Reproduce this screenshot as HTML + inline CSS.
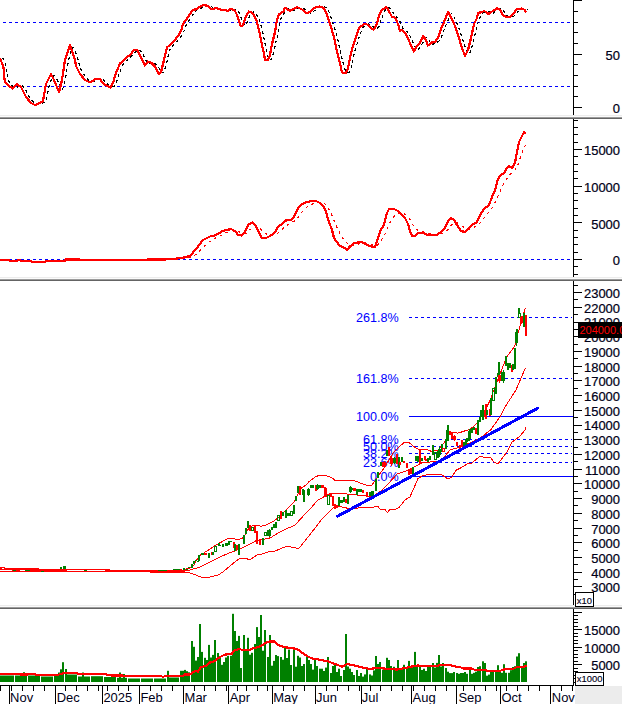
<!DOCTYPE html><html><head><meta charset="utf-8"><style>html,body{margin:0;padding:0;background:#fff;width:622px;height:704px;overflow:hidden}</style></head><body><svg width="622" height="704" viewBox="0 0 622 704" style="display:block">
<rect width="622" height="704" fill="#fff"/>
<rect x="0" y="115" width="622" height="1" fill="#ececec"/>
<rect x="0" y="116" width="622" height="1" fill="#fbfbfb"/>
<rect x="0" y="117" width="622" height="1" fill="#9c9c9c"/>
<rect x="0" y="118" width="622" height="1" fill="#646464"/>
<rect x="0" y="277" width="622" height="1" fill="#ececec"/>
<rect x="0" y="278" width="622" height="1" fill="#fbfbfb"/>
<rect x="0" y="279" width="622" height="1" fill="#9c9c9c"/>
<rect x="0" y="280" width="622" height="1" fill="#646464"/>
<rect x="0" y="605" width="622" height="1" fill="#ececec"/>
<rect x="0" y="606" width="622" height="1" fill="#fbfbfb"/>
<rect x="0" y="607" width="622" height="1" fill="#9c9c9c"/>
<rect x="0" y="608" width="622" height="1" fill="#646464"/>
<rect x="573" y="0" width="1" height="115" fill="#000"/>
<rect x="573" y="119" width="1" height="158" fill="#000"/>
<rect x="573" y="281" width="1" height="324" fill="#000"/>
<rect x="573" y="609" width="1" height="76" fill="#000"/>
<rect x="573" y="107" width="9" height="1" fill="#000"/>
<rect x="573" y="96" width="5" height="1" fill="#000"/>
<rect x="573" y="86" width="5" height="1" fill="#000"/>
<rect x="573" y="75" width="5" height="1" fill="#000"/>
<rect x="573" y="64" width="5" height="1" fill="#000"/>
<rect x="573" y="54" width="9" height="1" fill="#000"/>
<rect x="573" y="43" width="5" height="1" fill="#000"/>
<rect x="573" y="32" width="5" height="1" fill="#000"/>
<rect x="573" y="22" width="5" height="1" fill="#000"/>
<rect x="573" y="11" width="5" height="1" fill="#000"/>
<rect x="573" y="0" width="9" height="1" fill="#000"/>
<text transform="translate(620,60.2) scale(1.08,1)" font-family="Liberation Sans, sans-serif" font-size="12" fill="#000018" stroke="#000018" stroke-width="0.2" text-anchor="end">50</text>
<text transform="translate(620,113.3) scale(1.08,1)" font-family="Liberation Sans, sans-serif" font-size="12" fill="#000018" stroke="#000018" stroke-width="0.2" text-anchor="end">0</text>
<rect x="573" y="274" width="5" height="1" fill="#000"/>
<rect x="573" y="266" width="5" height="1" fill="#000"/>
<rect x="573" y="259" width="9" height="1" fill="#000"/>
<rect x="573" y="252" width="5" height="1" fill="#000"/>
<rect x="573" y="244" width="5" height="1" fill="#000"/>
<rect x="573" y="237" width="5" height="1" fill="#000"/>
<rect x="573" y="230" width="5" height="1" fill="#000"/>
<rect x="573" y="222" width="9" height="1" fill="#000"/>
<rect x="573" y="215" width="5" height="1" fill="#000"/>
<rect x="573" y="208" width="5" height="1" fill="#000"/>
<rect x="573" y="200" width="5" height="1" fill="#000"/>
<rect x="573" y="193" width="5" height="1" fill="#000"/>
<rect x="573" y="186" width="9" height="1" fill="#000"/>
<rect x="573" y="178" width="5" height="1" fill="#000"/>
<rect x="573" y="171" width="5" height="1" fill="#000"/>
<rect x="573" y="164" width="5" height="1" fill="#000"/>
<rect x="573" y="156" width="5" height="1" fill="#000"/>
<rect x="573" y="149" width="9" height="1" fill="#000"/>
<rect x="573" y="142" width="5" height="1" fill="#000"/>
<rect x="573" y="134" width="5" height="1" fill="#000"/>
<rect x="573" y="127" width="5" height="1" fill="#000"/>
<rect x="573" y="120" width="5" height="1" fill="#000"/>
<text transform="translate(620,155.2) scale(1.08,1)" font-family="Liberation Sans, sans-serif" font-size="12" fill="#000018" stroke="#000018" stroke-width="0.2" text-anchor="end">15000</text>
<text transform="translate(620,191.8) scale(1.08,1)" font-family="Liberation Sans, sans-serif" font-size="12" fill="#000018" stroke="#000018" stroke-width="0.2" text-anchor="end">10000</text>
<text transform="translate(620,228.5) scale(1.08,1)" font-family="Liberation Sans, sans-serif" font-size="12" fill="#000018" stroke="#000018" stroke-width="0.2" text-anchor="end">5000</text>
<text transform="translate(620,265.1) scale(1.08,1)" font-family="Liberation Sans, sans-serif" font-size="12" fill="#000018" stroke="#000018" stroke-width="0.2" text-anchor="end">0</text>
<rect x="573" y="594" width="5" height="1" fill="#000"/>
<rect x="573" y="586" width="9" height="1" fill="#000"/>
<rect x="573" y="579" width="5" height="1" fill="#000"/>
<rect x="573" y="572" width="9" height="1" fill="#000"/>
<rect x="573" y="564" width="5" height="1" fill="#000"/>
<rect x="573" y="557" width="9" height="1" fill="#000"/>
<rect x="573" y="550" width="5" height="1" fill="#000"/>
<rect x="573" y="542" width="9" height="1" fill="#000"/>
<rect x="573" y="535" width="5" height="1" fill="#000"/>
<rect x="573" y="528" width="9" height="1" fill="#000"/>
<rect x="573" y="520" width="5" height="1" fill="#000"/>
<rect x="573" y="513" width="9" height="1" fill="#000"/>
<rect x="573" y="505" width="5" height="1" fill="#000"/>
<rect x="573" y="498" width="9" height="1" fill="#000"/>
<rect x="573" y="491" width="5" height="1" fill="#000"/>
<rect x="573" y="483" width="9" height="1" fill="#000"/>
<rect x="573" y="476" width="5" height="1" fill="#000"/>
<rect x="573" y="469" width="9" height="1" fill="#000"/>
<rect x="573" y="461" width="5" height="1" fill="#000"/>
<rect x="573" y="454" width="9" height="1" fill="#000"/>
<rect x="573" y="447" width="5" height="1" fill="#000"/>
<rect x="573" y="439" width="9" height="1" fill="#000"/>
<rect x="573" y="432" width="5" height="1" fill="#000"/>
<rect x="573" y="425" width="9" height="1" fill="#000"/>
<rect x="573" y="417" width="5" height="1" fill="#000"/>
<rect x="573" y="410" width="9" height="1" fill="#000"/>
<rect x="573" y="402" width="5" height="1" fill="#000"/>
<rect x="573" y="395" width="9" height="1" fill="#000"/>
<rect x="573" y="388" width="5" height="1" fill="#000"/>
<rect x="573" y="380" width="9" height="1" fill="#000"/>
<rect x="573" y="373" width="5" height="1" fill="#000"/>
<rect x="573" y="366" width="9" height="1" fill="#000"/>
<rect x="573" y="358" width="5" height="1" fill="#000"/>
<rect x="573" y="351" width="9" height="1" fill="#000"/>
<rect x="573" y="344" width="5" height="1" fill="#000"/>
<rect x="573" y="336" width="9" height="1" fill="#000"/>
<rect x="573" y="329" width="5" height="1" fill="#000"/>
<rect x="573" y="322" width="9" height="1" fill="#000"/>
<rect x="573" y="314" width="5" height="1" fill="#000"/>
<rect x="573" y="307" width="9" height="1" fill="#000"/>
<rect x="573" y="299" width="5" height="1" fill="#000"/>
<rect x="573" y="292" width="9" height="1" fill="#000"/>
<rect x="573" y="285" width="5" height="1" fill="#000"/>
<text transform="translate(620,592.3) scale(1.08,1)" font-family="Liberation Sans, sans-serif" font-size="12" fill="#000018" stroke="#000018" stroke-width="0.2" text-anchor="end">3000</text>
<text transform="translate(620,577.6) scale(1.08,1)" font-family="Liberation Sans, sans-serif" font-size="12" fill="#000018" stroke="#000018" stroke-width="0.2" text-anchor="end">4000</text>
<text transform="translate(620,562.9) scale(1.08,1)" font-family="Liberation Sans, sans-serif" font-size="12" fill="#000018" stroke="#000018" stroke-width="0.2" text-anchor="end">5000</text>
<text transform="translate(620,548.2) scale(1.08,1)" font-family="Liberation Sans, sans-serif" font-size="12" fill="#000018" stroke="#000018" stroke-width="0.2" text-anchor="end">6000</text>
<text transform="translate(620,533.5) scale(1.08,1)" font-family="Liberation Sans, sans-serif" font-size="12" fill="#000018" stroke="#000018" stroke-width="0.2" text-anchor="end">7000</text>
<text transform="translate(620,518.7) scale(1.08,1)" font-family="Liberation Sans, sans-serif" font-size="12" fill="#000018" stroke="#000018" stroke-width="0.2" text-anchor="end">8000</text>
<text transform="translate(620,504.0) scale(1.08,1)" font-family="Liberation Sans, sans-serif" font-size="12" fill="#000018" stroke="#000018" stroke-width="0.2" text-anchor="end">9000</text>
<text transform="translate(620,489.3) scale(1.08,1)" font-family="Liberation Sans, sans-serif" font-size="12" fill="#000018" stroke="#000018" stroke-width="0.2" text-anchor="end">10000</text>
<text transform="translate(620,474.6) scale(1.08,1)" font-family="Liberation Sans, sans-serif" font-size="12" fill="#000018" stroke="#000018" stroke-width="0.2" text-anchor="end">11000</text>
<text transform="translate(620,459.9) scale(1.08,1)" font-family="Liberation Sans, sans-serif" font-size="12" fill="#000018" stroke="#000018" stroke-width="0.2" text-anchor="end">12000</text>
<text transform="translate(620,445.2) scale(1.08,1)" font-family="Liberation Sans, sans-serif" font-size="12" fill="#000018" stroke="#000018" stroke-width="0.2" text-anchor="end">13000</text>
<text transform="translate(620,430.4) scale(1.08,1)" font-family="Liberation Sans, sans-serif" font-size="12" fill="#000018" stroke="#000018" stroke-width="0.2" text-anchor="end">14000</text>
<text transform="translate(620,415.7) scale(1.08,1)" font-family="Liberation Sans, sans-serif" font-size="12" fill="#000018" stroke="#000018" stroke-width="0.2" text-anchor="end">15000</text>
<text transform="translate(620,401.0) scale(1.08,1)" font-family="Liberation Sans, sans-serif" font-size="12" fill="#000018" stroke="#000018" stroke-width="0.2" text-anchor="end">16000</text>
<text transform="translate(620,386.3) scale(1.08,1)" font-family="Liberation Sans, sans-serif" font-size="12" fill="#000018" stroke="#000018" stroke-width="0.2" text-anchor="end">17000</text>
<text transform="translate(620,371.6) scale(1.08,1)" font-family="Liberation Sans, sans-serif" font-size="12" fill="#000018" stroke="#000018" stroke-width="0.2" text-anchor="end">18000</text>
<text transform="translate(620,356.9) scale(1.08,1)" font-family="Liberation Sans, sans-serif" font-size="12" fill="#000018" stroke="#000018" stroke-width="0.2" text-anchor="end">19000</text>
<text transform="translate(620,342.1) scale(1.08,1)" font-family="Liberation Sans, sans-serif" font-size="12" fill="#000018" stroke="#000018" stroke-width="0.2" text-anchor="end">20000</text>
<text transform="translate(620,327.4) scale(1.08,1)" font-family="Liberation Sans, sans-serif" font-size="12" fill="#000018" stroke="#000018" stroke-width="0.2" text-anchor="end">21000</text>
<text transform="translate(620,312.7) scale(1.08,1)" font-family="Liberation Sans, sans-serif" font-size="12" fill="#000018" stroke="#000018" stroke-width="0.2" text-anchor="end">22000</text>
<text transform="translate(620,298.0) scale(1.08,1)" font-family="Liberation Sans, sans-serif" font-size="12" fill="#000018" stroke="#000018" stroke-width="0.2" text-anchor="end">23000</text>
<rect x="573" y="682" width="9" height="1" fill="#000"/>
<rect x="573" y="678" width="5" height="1" fill="#000"/>
<rect x="573" y="675" width="5" height="1" fill="#000"/>
<rect x="573" y="671" width="5" height="1" fill="#000"/>
<rect x="573" y="668" width="5" height="1" fill="#000"/>
<rect x="573" y="664" width="9" height="1" fill="#000"/>
<rect x="573" y="661" width="5" height="1" fill="#000"/>
<rect x="573" y="657" width="5" height="1" fill="#000"/>
<rect x="573" y="654" width="5" height="1" fill="#000"/>
<rect x="573" y="650" width="5" height="1" fill="#000"/>
<rect x="573" y="647" width="9" height="1" fill="#000"/>
<rect x="573" y="643" width="5" height="1" fill="#000"/>
<rect x="573" y="640" width="5" height="1" fill="#000"/>
<rect x="573" y="636" width="5" height="1" fill="#000"/>
<rect x="573" y="633" width="5" height="1" fill="#000"/>
<rect x="573" y="629" width="9" height="1" fill="#000"/>
<rect x="573" y="626" width="5" height="1" fill="#000"/>
<rect x="573" y="622" width="5" height="1" fill="#000"/>
<rect x="573" y="619" width="5" height="1" fill="#000"/>
<rect x="573" y="615" width="5" height="1" fill="#000"/>
<rect x="573" y="612" width="9" height="1" fill="#000"/>
<text transform="translate(620,635.1) scale(1.08,1)" font-family="Liberation Sans, sans-serif" font-size="12" fill="#000018" stroke="#000018" stroke-width="0.2" text-anchor="end">15000</text>
<text transform="translate(620,652.5) scale(1.08,1)" font-family="Liberation Sans, sans-serif" font-size="12" fill="#000018" stroke="#000018" stroke-width="0.2" text-anchor="end">10000</text>
<text transform="translate(620,670.0) scale(1.08,1)" font-family="Liberation Sans, sans-serif" font-size="12" fill="#000018" stroke="#000018" stroke-width="0.2" text-anchor="end">5000</text>
<rect x="3" y="22" width="3" height="1" fill="#0000ff"/>
<rect x="9" y="22" width="3" height="1" fill="#0000ff"/>
<rect x="15" y="22" width="3" height="1" fill="#0000ff"/>
<rect x="21" y="22" width="3" height="1" fill="#0000ff"/>
<rect x="27" y="22" width="3" height="1" fill="#0000ff"/>
<rect x="33" y="22" width="3" height="1" fill="#0000ff"/>
<rect x="39" y="22" width="3" height="1" fill="#0000ff"/>
<rect x="45" y="22" width="3" height="1" fill="#0000ff"/>
<rect x="51" y="22" width="3" height="1" fill="#0000ff"/>
<rect x="57" y="22" width="3" height="1" fill="#0000ff"/>
<rect x="63" y="22" width="3" height="1" fill="#0000ff"/>
<rect x="69" y="22" width="3" height="1" fill="#0000ff"/>
<rect x="75" y="22" width="3" height="1" fill="#0000ff"/>
<rect x="81" y="22" width="3" height="1" fill="#0000ff"/>
<rect x="87" y="22" width="3" height="1" fill="#0000ff"/>
<rect x="93" y="22" width="3" height="1" fill="#0000ff"/>
<rect x="99" y="22" width="3" height="1" fill="#0000ff"/>
<rect x="105" y="22" width="3" height="1" fill="#0000ff"/>
<rect x="111" y="22" width="3" height="1" fill="#0000ff"/>
<rect x="117" y="22" width="3" height="1" fill="#0000ff"/>
<rect x="123" y="22" width="3" height="1" fill="#0000ff"/>
<rect x="129" y="22" width="3" height="1" fill="#0000ff"/>
<rect x="135" y="22" width="3" height="1" fill="#0000ff"/>
<rect x="141" y="22" width="3" height="1" fill="#0000ff"/>
<rect x="147" y="22" width="3" height="1" fill="#0000ff"/>
<rect x="153" y="22" width="3" height="1" fill="#0000ff"/>
<rect x="159" y="22" width="3" height="1" fill="#0000ff"/>
<rect x="165" y="22" width="3" height="1" fill="#0000ff"/>
<rect x="171" y="22" width="3" height="1" fill="#0000ff"/>
<rect x="177" y="22" width="3" height="1" fill="#0000ff"/>
<rect x="183" y="22" width="3" height="1" fill="#0000ff"/>
<rect x="189" y="22" width="3" height="1" fill="#0000ff"/>
<rect x="195" y="22" width="3" height="1" fill="#0000ff"/>
<rect x="201" y="22" width="3" height="1" fill="#0000ff"/>
<rect x="207" y="22" width="3" height="1" fill="#0000ff"/>
<rect x="213" y="22" width="3" height="1" fill="#0000ff"/>
<rect x="219" y="22" width="3" height="1" fill="#0000ff"/>
<rect x="225" y="22" width="3" height="1" fill="#0000ff"/>
<rect x="231" y="22" width="3" height="1" fill="#0000ff"/>
<rect x="237" y="22" width="3" height="1" fill="#0000ff"/>
<rect x="243" y="22" width="3" height="1" fill="#0000ff"/>
<rect x="249" y="22" width="3" height="1" fill="#0000ff"/>
<rect x="255" y="22" width="3" height="1" fill="#0000ff"/>
<rect x="261" y="22" width="3" height="1" fill="#0000ff"/>
<rect x="267" y="22" width="3" height="1" fill="#0000ff"/>
<rect x="273" y="22" width="3" height="1" fill="#0000ff"/>
<rect x="279" y="22" width="3" height="1" fill="#0000ff"/>
<rect x="285" y="22" width="3" height="1" fill="#0000ff"/>
<rect x="291" y="22" width="3" height="1" fill="#0000ff"/>
<rect x="297" y="22" width="3" height="1" fill="#0000ff"/>
<rect x="303" y="22" width="3" height="1" fill="#0000ff"/>
<rect x="309" y="22" width="3" height="1" fill="#0000ff"/>
<rect x="315" y="22" width="3" height="1" fill="#0000ff"/>
<rect x="321" y="22" width="3" height="1" fill="#0000ff"/>
<rect x="327" y="22" width="3" height="1" fill="#0000ff"/>
<rect x="333" y="22" width="3" height="1" fill="#0000ff"/>
<rect x="339" y="22" width="3" height="1" fill="#0000ff"/>
<rect x="345" y="22" width="3" height="1" fill="#0000ff"/>
<rect x="351" y="22" width="3" height="1" fill="#0000ff"/>
<rect x="357" y="22" width="3" height="1" fill="#0000ff"/>
<rect x="363" y="22" width="3" height="1" fill="#0000ff"/>
<rect x="369" y="22" width="3" height="1" fill="#0000ff"/>
<rect x="375" y="22" width="3" height="1" fill="#0000ff"/>
<rect x="381" y="22" width="3" height="1" fill="#0000ff"/>
<rect x="387" y="22" width="3" height="1" fill="#0000ff"/>
<rect x="393" y="22" width="3" height="1" fill="#0000ff"/>
<rect x="399" y="22" width="3" height="1" fill="#0000ff"/>
<rect x="405" y="22" width="3" height="1" fill="#0000ff"/>
<rect x="411" y="22" width="3" height="1" fill="#0000ff"/>
<rect x="417" y="22" width="3" height="1" fill="#0000ff"/>
<rect x="423" y="22" width="3" height="1" fill="#0000ff"/>
<rect x="429" y="22" width="3" height="1" fill="#0000ff"/>
<rect x="435" y="22" width="3" height="1" fill="#0000ff"/>
<rect x="441" y="22" width="3" height="1" fill="#0000ff"/>
<rect x="447" y="22" width="3" height="1" fill="#0000ff"/>
<rect x="453" y="22" width="3" height="1" fill="#0000ff"/>
<rect x="459" y="22" width="3" height="1" fill="#0000ff"/>
<rect x="465" y="22" width="3" height="1" fill="#0000ff"/>
<rect x="471" y="22" width="3" height="1" fill="#0000ff"/>
<rect x="477" y="22" width="3" height="1" fill="#0000ff"/>
<rect x="483" y="22" width="3" height="1" fill="#0000ff"/>
<rect x="489" y="22" width="3" height="1" fill="#0000ff"/>
<rect x="495" y="22" width="3" height="1" fill="#0000ff"/>
<rect x="501" y="22" width="3" height="1" fill="#0000ff"/>
<rect x="507" y="22" width="3" height="1" fill="#0000ff"/>
<rect x="513" y="22" width="3" height="1" fill="#0000ff"/>
<rect x="519" y="22" width="3" height="1" fill="#0000ff"/>
<rect x="525" y="22" width="3" height="1" fill="#0000ff"/>
<rect x="531" y="22" width="3" height="1" fill="#0000ff"/>
<rect x="537" y="22" width="3" height="1" fill="#0000ff"/>
<rect x="543" y="22" width="3" height="1" fill="#0000ff"/>
<rect x="549" y="22" width="3" height="1" fill="#0000ff"/>
<rect x="555" y="22" width="3" height="1" fill="#0000ff"/>
<rect x="561" y="22" width="3" height="1" fill="#0000ff"/>
<rect x="567" y="22" width="3" height="1" fill="#0000ff"/>
<rect x="3" y="86" width="3" height="1" fill="#0000ff"/>
<rect x="9" y="86" width="3" height="1" fill="#0000ff"/>
<rect x="15" y="86" width="3" height="1" fill="#0000ff"/>
<rect x="21" y="86" width="3" height="1" fill="#0000ff"/>
<rect x="27" y="86" width="3" height="1" fill="#0000ff"/>
<rect x="33" y="86" width="3" height="1" fill="#0000ff"/>
<rect x="39" y="86" width="3" height="1" fill="#0000ff"/>
<rect x="45" y="86" width="3" height="1" fill="#0000ff"/>
<rect x="51" y="86" width="3" height="1" fill="#0000ff"/>
<rect x="57" y="86" width="3" height="1" fill="#0000ff"/>
<rect x="63" y="86" width="3" height="1" fill="#0000ff"/>
<rect x="69" y="86" width="3" height="1" fill="#0000ff"/>
<rect x="75" y="86" width="3" height="1" fill="#0000ff"/>
<rect x="81" y="86" width="3" height="1" fill="#0000ff"/>
<rect x="87" y="86" width="3" height="1" fill="#0000ff"/>
<rect x="93" y="86" width="3" height="1" fill="#0000ff"/>
<rect x="99" y="86" width="3" height="1" fill="#0000ff"/>
<rect x="105" y="86" width="3" height="1" fill="#0000ff"/>
<rect x="111" y="86" width="3" height="1" fill="#0000ff"/>
<rect x="117" y="86" width="3" height="1" fill="#0000ff"/>
<rect x="123" y="86" width="3" height="1" fill="#0000ff"/>
<rect x="129" y="86" width="3" height="1" fill="#0000ff"/>
<rect x="135" y="86" width="3" height="1" fill="#0000ff"/>
<rect x="141" y="86" width="3" height="1" fill="#0000ff"/>
<rect x="147" y="86" width="3" height="1" fill="#0000ff"/>
<rect x="153" y="86" width="3" height="1" fill="#0000ff"/>
<rect x="159" y="86" width="3" height="1" fill="#0000ff"/>
<rect x="165" y="86" width="3" height="1" fill="#0000ff"/>
<rect x="171" y="86" width="3" height="1" fill="#0000ff"/>
<rect x="177" y="86" width="3" height="1" fill="#0000ff"/>
<rect x="183" y="86" width="3" height="1" fill="#0000ff"/>
<rect x="189" y="86" width="3" height="1" fill="#0000ff"/>
<rect x="195" y="86" width="3" height="1" fill="#0000ff"/>
<rect x="201" y="86" width="3" height="1" fill="#0000ff"/>
<rect x="207" y="86" width="3" height="1" fill="#0000ff"/>
<rect x="213" y="86" width="3" height="1" fill="#0000ff"/>
<rect x="219" y="86" width="3" height="1" fill="#0000ff"/>
<rect x="225" y="86" width="3" height="1" fill="#0000ff"/>
<rect x="231" y="86" width="3" height="1" fill="#0000ff"/>
<rect x="237" y="86" width="3" height="1" fill="#0000ff"/>
<rect x="243" y="86" width="3" height="1" fill="#0000ff"/>
<rect x="249" y="86" width="3" height="1" fill="#0000ff"/>
<rect x="255" y="86" width="3" height="1" fill="#0000ff"/>
<rect x="261" y="86" width="3" height="1" fill="#0000ff"/>
<rect x="267" y="86" width="3" height="1" fill="#0000ff"/>
<rect x="273" y="86" width="3" height="1" fill="#0000ff"/>
<rect x="279" y="86" width="3" height="1" fill="#0000ff"/>
<rect x="285" y="86" width="3" height="1" fill="#0000ff"/>
<rect x="291" y="86" width="3" height="1" fill="#0000ff"/>
<rect x="297" y="86" width="3" height="1" fill="#0000ff"/>
<rect x="303" y="86" width="3" height="1" fill="#0000ff"/>
<rect x="309" y="86" width="3" height="1" fill="#0000ff"/>
<rect x="315" y="86" width="3" height="1" fill="#0000ff"/>
<rect x="321" y="86" width="3" height="1" fill="#0000ff"/>
<rect x="327" y="86" width="3" height="1" fill="#0000ff"/>
<rect x="333" y="86" width="3" height="1" fill="#0000ff"/>
<rect x="339" y="86" width="3" height="1" fill="#0000ff"/>
<rect x="345" y="86" width="3" height="1" fill="#0000ff"/>
<rect x="351" y="86" width="3" height="1" fill="#0000ff"/>
<rect x="357" y="86" width="3" height="1" fill="#0000ff"/>
<rect x="363" y="86" width="3" height="1" fill="#0000ff"/>
<rect x="369" y="86" width="3" height="1" fill="#0000ff"/>
<rect x="375" y="86" width="3" height="1" fill="#0000ff"/>
<rect x="381" y="86" width="3" height="1" fill="#0000ff"/>
<rect x="387" y="86" width="3" height="1" fill="#0000ff"/>
<rect x="393" y="86" width="3" height="1" fill="#0000ff"/>
<rect x="399" y="86" width="3" height="1" fill="#0000ff"/>
<rect x="405" y="86" width="3" height="1" fill="#0000ff"/>
<rect x="411" y="86" width="3" height="1" fill="#0000ff"/>
<rect x="417" y="86" width="3" height="1" fill="#0000ff"/>
<rect x="423" y="86" width="3" height="1" fill="#0000ff"/>
<rect x="429" y="86" width="3" height="1" fill="#0000ff"/>
<rect x="435" y="86" width="3" height="1" fill="#0000ff"/>
<rect x="441" y="86" width="3" height="1" fill="#0000ff"/>
<rect x="447" y="86" width="3" height="1" fill="#0000ff"/>
<rect x="453" y="86" width="3" height="1" fill="#0000ff"/>
<rect x="459" y="86" width="3" height="1" fill="#0000ff"/>
<rect x="465" y="86" width="3" height="1" fill="#0000ff"/>
<rect x="471" y="86" width="3" height="1" fill="#0000ff"/>
<rect x="477" y="86" width="3" height="1" fill="#0000ff"/>
<rect x="483" y="86" width="3" height="1" fill="#0000ff"/>
<rect x="489" y="86" width="3" height="1" fill="#0000ff"/>
<rect x="495" y="86" width="3" height="1" fill="#0000ff"/>
<rect x="501" y="86" width="3" height="1" fill="#0000ff"/>
<rect x="507" y="86" width="3" height="1" fill="#0000ff"/>
<rect x="513" y="86" width="3" height="1" fill="#0000ff"/>
<rect x="519" y="86" width="3" height="1" fill="#0000ff"/>
<rect x="525" y="86" width="3" height="1" fill="#0000ff"/>
<rect x="531" y="86" width="3" height="1" fill="#0000ff"/>
<rect x="537" y="86" width="3" height="1" fill="#0000ff"/>
<rect x="543" y="86" width="3" height="1" fill="#0000ff"/>
<rect x="549" y="86" width="3" height="1" fill="#0000ff"/>
<rect x="555" y="86" width="3" height="1" fill="#0000ff"/>
<rect x="561" y="86" width="3" height="1" fill="#0000ff"/>
<rect x="567" y="86" width="3" height="1" fill="#0000ff"/>
<polyline points="1.8,57.9 2.3,58.1 2.8,58.5 3.3,59.0 3.8,59.8 4.3,60.8 4.8,61.9 5.3,63.4 5.8,65.4 6.3,68.0 6.8,70.9 7.3,73.7 7.8,76.3 8.3,78.8 8.8,81.1 9.3,82.6 9.8,83.5 10.3,83.9 10.8,84.4 11.3,84.8 11.8,85.3 12.3,85.7 12.8,86.1 13.3,86.6 13.8,87.0 14.3,87.4 14.8,87.7 15.3,87.8 15.8,87.8 16.3,87.7 16.8,87.4 17.3,87.0 17.8,86.6 18.3,86.1 18.8,85.7 19.3,85.3 19.8,85.1 20.3,85.0 20.8,85.0 21.3,85.1 21.8,85.3 22.3,85.6 22.8,86.0 23.3,86.4 23.8,86.9 24.3,87.6 24.8,88.3 25.3,89.1 25.8,90.0 26.3,91.0 26.8,92.0 27.3,93.0 27.8,94.0 28.3,94.9 28.8,95.8 29.3,96.7 29.8,97.4 30.3,98.1 30.8,98.8 31.3,99.4 31.8,100.0 32.3,100.6 32.8,101.2 33.3,101.8 33.8,102.2 34.3,102.7 34.8,103.1 35.3,103.5 35.8,103.8 36.3,104.0 36.8,104.2 37.3,104.4 37.8,104.6 38.3,104.6 38.8,104.6 39.3,104.5 39.8,104.4 40.3,104.2 40.8,104.0 41.3,103.8 41.8,103.6 42.3,103.4 42.8,103.1 43.3,102.9 43.8,102.6 44.3,102.3 44.8,102.0 45.3,101.3 45.8,100.3 46.3,98.9 46.8,97.1 47.3,95.0 47.8,92.5 48.3,89.9 48.8,87.6 49.3,85.6 49.8,83.8 50.3,82.3 50.8,81.0 51.3,80.0 51.8,79.0 52.3,78.0 52.8,77.0 53.3,76.3 53.8,75.9 54.3,75.7 54.8,75.9 55.3,76.3 55.8,77.0 56.3,78.0 56.8,79.1 57.3,80.2 57.8,81.3 58.3,82.4 58.8,83.6 59.3,84.8 59.8,86.0 60.3,87.2 60.8,88.4 61.3,89.1 61.8,89.4 62.3,89.3 62.8,88.6 63.3,87.5 63.8,86.0 64.3,83.8 64.8,81.4 65.3,78.9 65.8,76.1 66.3,73.1 66.8,70.0 67.3,66.9 67.8,64.1 68.3,61.6 68.8,59.3 69.3,57.3 69.8,55.5 70.3,54.0 70.8,52.5 71.3,51.0 71.8,49.5 72.3,48.4 72.8,47.8 73.3,47.6 73.8,47.8 74.3,48.4 74.8,49.5 75.3,51.0 75.8,52.5 76.3,54.0 76.8,55.5 77.3,57.2 77.8,59.1 78.3,61.0 78.8,62.8 79.3,64.5 79.8,66.1 80.3,67.7 80.8,69.0 81.3,70.0 81.8,71.0 82.3,71.9 82.8,72.8 83.3,73.7 83.8,74.4 84.3,75.1 84.8,75.8 85.3,76.4 85.8,77.0 86.3,77.6 86.8,78.2 87.3,78.8 87.8,79.2 88.3,79.7 88.8,80.1 89.3,80.5 89.8,80.8 90.3,81.0 90.8,81.2 91.3,81.5 91.8,81.6 92.3,81.7 92.8,81.8 93.3,81.8 93.8,81.8 94.3,81.6 94.8,81.4 95.3,81.2 95.8,80.9 96.3,80.5 96.8,80.1 97.3,79.7 97.8,79.4 98.3,79.1 98.8,78.9 99.3,78.8 99.8,78.8 100.3,78.8 100.8,78.9 101.3,78.9 101.8,78.9 102.3,79.0 102.8,79.3 103.3,79.6 103.8,80.0 104.3,80.5 104.8,81.1 105.3,81.8 105.8,82.4 106.3,83.1 106.8,83.6 107.3,84.1 107.8,84.5 108.3,84.9 108.8,85.2 109.3,85.4 109.8,85.7 110.3,85.9 110.8,86.1 111.3,86.3 111.8,86.6 112.3,86.8 112.8,86.9 113.3,86.8 113.8,86.5 114.3,86.1 114.8,85.5 115.3,84.7 115.8,83.6 116.3,82.3 116.8,81.0 117.3,79.6 117.8,78.0 118.3,76.4 118.8,74.9 119.3,73.4 119.8,72.0 120.3,70.7 120.8,69.4 121.3,68.2 121.8,67.1 122.3,66.0 122.8,65.0 123.3,64.1 123.8,63.4 124.3,62.7 124.8,62.2 125.3,61.8 125.8,61.3 126.3,60.9 126.8,60.4 127.3,59.9 127.8,59.5 128.3,59.0 128.8,58.5 129.3,58.0 129.8,57.6 130.3,57.1 130.8,56.7 131.3,56.4 131.8,56.0 132.3,55.6 132.8,55.2 133.3,54.8 133.8,54.2 134.3,53.7 134.8,53.1 135.3,52.5 135.8,51.9 136.3,51.3 136.8,50.9 137.3,50.5 137.8,50.2 138.3,50.0 138.8,49.9 139.3,49.9 139.8,50.2 140.3,50.5 140.8,51.0 141.3,51.7 141.8,52.4 142.3,53.4 142.8,54.3 143.3,55.2 143.8,56.2 144.3,57.1 144.8,58.1 145.3,59.1 145.8,60.2 146.3,61.2 146.8,62.3 147.3,63.1 147.8,63.7 148.3,64.0 148.8,64.1 149.3,63.9 149.8,63.5 150.3,63.0 150.8,62.5 151.3,62.2 151.8,62.0 152.3,62.0 152.8,62.0 153.3,62.2 153.8,62.5 154.3,62.8 154.8,63.1 155.3,63.5 155.8,64.0 156.3,64.5 156.8,65.0 157.3,65.6 157.8,66.2 158.3,66.9 158.8,67.6 159.3,68.4 159.8,69.3 160.3,70.2 160.8,71.2 161.3,71.9 161.8,72.4 162.3,72.8 162.8,72.9 163.3,72.6 163.8,71.9 164.3,70.7 164.8,69.4 165.3,67.8 165.8,66.0 166.3,64.0 166.8,61.9 167.3,59.9 167.8,57.8 168.3,55.6 168.8,53.5 169.3,51.6 169.8,50.0 170.3,48.6 170.8,47.6 171.3,46.8 171.8,46.2 172.3,46.0 172.8,45.6 173.3,45.2 173.8,44.8 174.3,44.3 174.8,43.8 175.3,43.2 175.8,42.7 176.3,42.1 176.8,41.5 177.3,40.9 177.8,40.3 178.3,39.7 178.8,39.1 179.3,38.5 179.8,37.9 180.3,37.2 180.8,36.5 181.3,35.8 181.8,35.1 182.3,34.3 182.8,33.5 183.3,32.5 183.8,31.4 184.3,30.2 184.8,28.9 185.3,27.5 185.8,26.2 186.3,24.9 186.8,23.8 187.3,22.8 187.8,22.0 188.3,21.3 188.8,20.6 189.3,19.9 189.8,19.2 190.3,18.5 190.8,17.8 191.3,17.0 191.8,16.2 192.3,15.5 192.8,14.8 193.3,14.1 193.8,13.4 194.3,12.7 194.8,12.0 195.3,11.4 195.8,10.9 196.3,10.5 196.8,10.1 197.3,9.8 197.8,9.6 198.3,9.5 198.8,9.4 199.3,9.2 199.8,9.0 200.3,8.8 200.8,8.5 201.3,8.2 201.8,7.9 202.3,7.5 202.8,7.1 203.3,6.8 203.8,6.5 204.3,6.2 204.8,5.9 205.3,5.7 205.8,5.5 206.3,5.4 206.8,5.3 207.3,5.2 207.8,5.2 208.3,5.3 208.8,5.4 209.3,5.5 209.8,5.6 210.3,5.8 210.8,6.1 211.3,6.4 211.8,6.8 212.3,7.2 212.8,7.8 213.3,8.2 213.8,8.6 214.3,8.9 214.8,9.0 215.3,9.1 215.8,9.1 216.3,8.9 216.8,8.8 217.3,8.6 217.8,8.4 218.3,8.3 218.8,8.3 219.3,8.3 219.8,8.3 220.3,8.4 220.8,8.6 221.3,8.8 221.8,8.9 222.3,9.1 222.8,9.3 223.3,9.4 223.8,9.5 224.3,9.6 224.8,9.7 225.3,9.7 225.8,9.8 226.3,9.8 226.8,9.8 227.3,9.9 227.8,10.0 228.3,10.1 228.8,10.2 229.3,10.3 229.8,10.5 230.3,10.6 230.8,10.6 231.3,10.5 231.8,10.3 232.3,10.1 232.8,9.8 233.3,9.4 233.8,9.2 234.3,9.1 234.8,9.1 235.3,9.2 235.8,9.4 236.3,9.8 236.8,10.1 237.3,10.5 237.8,11.0 238.3,11.6 238.8,12.3 239.3,13.2 239.8,14.2 240.3,15.4 240.8,16.7 241.3,18.1 241.8,19.5 242.3,21.0 242.8,22.4 243.3,23.6 243.8,24.4 244.3,25.1 244.8,25.4 245.3,25.4 245.8,24.9 246.3,24.0 246.8,23.0 247.3,21.8 247.8,20.5 248.3,19.1 248.8,17.8 249.3,16.6 249.8,15.6 250.3,14.6 250.8,13.8 251.3,13.1 251.8,12.6 252.3,12.3 252.8,12.1 253.3,12.0 253.8,12.0 254.3,12.3 254.8,12.6 255.3,13.1 255.8,13.6 256.3,14.2 256.8,14.9 257.3,15.8 257.8,16.6 258.3,17.5 258.8,18.6 259.3,19.9 259.8,21.3 260.3,22.8 260.8,24.5 261.3,26.4 261.8,28.5 262.3,30.6 262.8,32.8 263.3,35.1 263.8,37.5 264.3,40.0 264.8,42.4 265.3,44.8 265.8,47.1 266.3,49.6 266.8,52.1 267.3,54.2 267.8,56.0 268.3,57.5 268.8,58.7 269.3,59.6 269.8,60.0 270.3,59.8 270.8,59.5 271.3,58.9 271.8,58.2 272.3,57.1 272.8,55.6 273.3,53.7 273.8,51.6 274.3,49.4 274.8,47.1 275.3,44.6 275.8,42.3 276.3,40.1 276.8,38.0 277.3,35.8 277.8,33.5 278.3,31.1 278.8,28.4 279.3,25.9 279.8,23.5 280.3,21.2 280.8,19.1 281.3,17.4 281.8,16.2 282.3,15.3 282.8,14.5 283.3,13.9 283.8,13.4 284.3,13.0 284.8,12.6 285.3,12.3 285.8,11.8 286.3,11.2 286.8,10.5 287.3,9.9 287.8,9.4 288.3,9.0 288.8,8.7 289.3,8.6 289.8,8.7 290.3,9.0 290.8,9.3 291.3,9.7 291.8,10.0 292.3,10.3 292.8,10.4 293.3,10.5 293.8,10.5 294.3,10.3 294.8,10.1 295.3,9.9 295.8,9.6 296.3,9.3 296.8,9.0 297.3,8.7 297.8,8.4 298.3,8.1 298.8,7.9 299.3,7.6 299.8,7.5 300.3,7.5 300.8,7.5 301.3,7.6 301.8,7.8 302.3,8.0 302.8,8.2 303.3,8.5 303.8,8.8 304.3,9.0 304.8,9.3 305.3,9.6 305.8,10.0 306.3,10.3 306.8,10.7 307.3,11.1 307.8,11.5 308.3,11.9 308.8,12.3 309.3,12.6 309.8,12.8 310.3,12.9 310.8,12.9 311.3,12.8 311.8,12.6 312.3,12.2 312.8,11.9 313.3,11.6 313.8,11.3 314.3,10.9 314.8,10.5 315.3,10.1 315.8,9.7 316.3,9.2 316.8,8.8 317.3,8.4 317.8,8.1 318.3,7.8 318.8,7.5 319.3,7.3 319.8,7.2 320.3,7.1 320.8,7.0 321.3,6.9 321.8,6.8 322.3,6.7 322.8,6.7 323.3,6.7 323.8,6.8 324.3,6.9 324.8,7.1 325.3,7.2 325.8,7.4 326.3,7.8 326.8,8.2 327.3,8.8 327.8,9.6 328.3,10.5 328.8,11.5 329.3,12.7 329.8,14.0 330.3,15.3 330.8,16.6 331.3,18.0 331.8,19.5 332.3,21.0 332.8,22.5 333.3,24.0 333.8,25.6 334.3,27.1 334.8,28.7 335.3,30.4 335.8,32.0 336.3,33.8 336.8,35.7 337.3,37.7 337.8,39.9 338.3,42.1 338.8,44.5 339.3,46.9 339.8,49.2 340.3,51.4 340.8,53.5 341.3,55.6 341.8,57.5 342.3,59.4 342.8,61.4 343.3,63.5 343.8,65.6 344.3,67.5 344.8,69.1 345.3,70.5 345.8,71.6 346.3,72.3 346.8,72.7 347.3,72.8 347.8,72.8 348.3,72.7 348.8,72.4 349.3,71.9 349.8,71.2 350.3,70.1 350.8,68.7 351.3,66.9 351.8,65.0 352.3,62.8 352.8,60.5 353.3,58.1 353.8,55.9 354.3,53.7 354.8,51.7 355.3,49.8 355.8,48.0 356.3,46.4 356.8,44.7 357.3,43.1 357.8,41.6 358.3,40.0 358.8,38.5 359.3,37.0 359.8,35.5 360.3,34.0 360.8,32.5 361.3,31.2 361.8,30.0 362.3,29.0 362.8,28.1 363.3,27.4 363.8,26.9 364.3,26.5 364.8,26.1 365.3,25.8 365.8,25.4 366.3,25.0 366.8,24.6 367.3,24.3 367.8,24.1 368.3,24.0 368.8,24.0 369.3,24.1 369.8,24.2 370.3,24.5 370.8,24.9 371.3,25.2 371.8,25.6 372.3,26.0 372.8,26.5 373.3,27.0 373.8,27.5 374.3,27.9 374.8,28.3 375.3,28.7 375.8,29.0 376.3,29.0 376.8,28.9 377.3,28.6 377.8,28.1 378.3,27.5 378.8,26.8 379.3,25.6 379.8,24.3 380.3,22.9 380.8,21.2 381.3,19.5 381.8,17.9 382.3,16.2 382.8,14.8 383.3,13.5 383.8,12.5 384.3,11.7 384.8,11.0 385.3,10.4 385.8,9.9 386.3,9.4 386.8,9.0 387.3,8.7 387.8,8.3 388.3,8.0 388.8,7.8 389.3,7.8 389.8,8.0 390.3,8.4 390.8,8.9 391.3,9.6 391.8,10.4 392.3,11.3 392.8,12.2 393.3,13.1 393.8,14.1 394.3,14.9 394.8,15.6 395.3,16.2 395.8,16.7 396.3,17.0 396.8,17.2 397.3,17.5 397.8,17.8 398.3,18.4 398.8,19.0 399.3,19.8 399.8,20.8 400.3,21.9 400.8,23.2 401.3,24.6 401.8,26.0 402.3,27.3 402.8,28.4 403.3,29.3 403.8,29.9 404.3,30.3 404.8,30.6 405.3,30.6 405.8,30.8 406.3,31.1 406.8,31.5 407.3,32.0 407.8,32.6 408.3,33.3 408.8,34.0 409.3,34.7 409.8,35.5 410.3,36.4 410.8,37.4 411.3,38.4 411.8,39.5 412.3,40.7 412.8,42.0 413.3,43.3 413.8,44.5 414.3,45.6 414.8,46.7 415.3,47.8 415.8,48.8 416.3,49.4 416.8,49.8 417.3,49.9 417.8,49.8 418.3,49.4 418.8,48.8 419.3,47.9 419.8,47.1 420.3,46.3 420.8,45.6 421.3,44.9 421.8,44.2 422.3,43.6 422.8,42.9 423.3,42.1 423.8,41.2 424.3,40.3 424.8,39.2 425.3,38.4 425.8,37.8 426.3,37.5 426.8,37.4 427.3,37.6 427.8,38.0 428.3,38.8 428.8,39.6 429.3,40.6 429.8,41.7 430.3,42.6 430.8,43.4 431.3,44.0 431.8,44.4 432.3,44.5 432.8,44.4 433.3,44.0 433.8,43.6 434.3,43.3 434.8,43.0 435.3,42.8 435.8,42.5 436.3,42.4 436.8,42.2 437.3,42.1 437.8,41.8 438.3,41.5 438.8,41.1 439.3,40.6 439.8,40.0 440.3,39.2 440.8,38.3 441.3,37.3 441.8,36.1 442.3,34.9 442.8,33.5 443.3,32.0 443.8,30.6 444.3,29.3 444.8,28.0 445.3,26.7 445.8,25.5 446.3,24.3 446.8,23.1 447.3,21.9 447.8,20.7 448.3,19.5 448.8,18.2 449.3,17.0 449.8,15.8 450.3,14.8 450.8,14.2 451.3,13.9 451.8,13.8 452.3,14.1 452.8,14.8 453.3,15.7 453.8,16.6 454.3,17.6 454.8,18.6 455.3,19.6 455.8,20.7 456.3,21.8 456.8,22.8 457.3,23.9 457.8,25.1 458.3,26.4 458.8,27.7 459.3,29.1 459.8,30.5 460.3,32.0 460.8,33.6 461.3,35.1 461.8,36.7 462.3,38.3 462.8,39.9 463.3,41.5 463.8,43.1 464.3,44.7 464.8,46.2 465.3,47.8 465.8,49.2 466.3,50.6 466.8,52.0 467.3,53.0 467.8,53.7 468.3,54.0 468.8,54.0 469.3,53.7 469.8,53.0 470.3,51.9 470.8,50.6 471.3,49.1 471.8,47.6 472.3,45.9 472.8,44.0 473.3,42.0 473.8,39.9 474.3,37.7 474.8,35.5 475.3,33.3 475.8,31.0 476.3,28.9 476.8,26.9 477.3,25.1 477.8,23.6 478.3,22.2 478.8,21.0 479.3,19.8 479.8,18.4 480.3,17.1 480.8,15.9 481.3,14.8 481.8,13.9 482.3,13.1 482.8,12.6 483.3,12.5 483.8,12.4 484.3,12.2 484.8,12.1 485.3,11.9 485.8,11.7 486.3,11.6 486.8,11.5 487.3,11.4 487.8,11.5 488.3,11.6 488.8,11.8 489.3,12.0 489.8,12.4 490.3,12.7 490.8,13.1 491.3,13.4 491.8,13.5 492.3,13.5 492.8,13.4 493.3,13.1 493.8,12.8 494.3,12.3 494.8,11.9 495.3,11.6 495.8,11.2 496.3,11.0 496.8,10.7 497.3,10.4 497.8,10.0 498.3,9.6 498.8,9.2 499.3,8.9 499.8,8.7 500.3,8.6 500.8,8.7 501.3,8.8 501.8,9.0 502.3,9.4 502.8,9.9 503.3,10.4 503.8,11.0 504.3,11.7 504.8,12.5 505.3,13.3 505.8,14.0 506.3,14.6 506.8,15.1 507.3,15.6 507.8,16.0 508.3,16.3 508.8,16.5 509.3,16.7 509.8,16.9 510.3,17.0 510.8,17.0 511.3,17.0 511.8,17.0 512.3,16.9 512.8,16.8 513.3,16.6 513.8,16.3 514.3,15.9 514.8,15.5 515.3,15.0 515.8,14.4 516.3,13.9 516.8,13.3 517.3,12.7 517.8,12.1 518.3,11.5 518.8,10.9 519.3,10.3 519.8,9.9 520.3,9.5 520.8,9.2 521.3,9.0 521.8,8.8 522.3,8.8 522.8,8.8 523.3,8.7 523.8,8.7 524.3,8.6 524.8,8.7 525.3,8.8 525.8,8.9 526.3,9.0 526.8,9.2 527.3,9.6 527.8,10.2" fill="none" stroke="#000" stroke-width="1.2" stroke-dasharray="3,3" shape-rendering="crispEdges"/>
<polyline points="0.0,57.9 3.4,67.0 4.8,82.0 12.3,88.6 17.0,84.3 21.0,87.0 26.0,97.0 31.0,103.0 35.0,105.0 40.0,103.0 43.0,101.0 46.0,84.0 51.0,74.0 54.0,80.0 59.0,92.0 62.0,80.0 65.0,60.0 70.0,45.0 75.0,60.0 76.0,66.0 80.0,74.0 85.0,80.0 89.0,82.0 92.0,81.5 95.0,78.7 100.0,79.0 104.0,84.5 110.5,87.5 113.0,83.0 116.0,73.0 120.0,63.5 124.0,60.0 127.0,57.0 130.0,55.0 134.0,50.0 137.0,49.7 141.0,57.0 145.0,65.5 148.0,61.5 151.0,62.5 155.0,66.5 159.0,74.0 161.0,72.0 164.0,60.0 167.0,47.0 170.0,45.5 174.0,41.0 178.0,36.0 181.0,31.0 183.0,24.0 186.0,20.0 190.0,14.0 193.0,10.0 197.0,9.0 201.0,6.0 204.0,5.0 208.0,6.0 211.0,9.5 216.0,8.0 220.0,9.5 225.0,10.0 228.0,11.0 231.0,8.5 235.0,11.0 237.0,15.0 240.0,24.0 241.0,26.5 243.0,25.0 246.0,16.0 249.0,11.5 252.0,12.5 256.0,19.0 259.0,30.0 262.0,45.0 264.0,54.0 265.0,60.0 268.0,60.0 270.0,55.0 272.0,44.0 275.0,32.0 277.0,19.6 279.0,14.5 283.7,11.0 285.0,7.7 290.0,11.0 297.0,7.0 302.0,9.5 307.0,13.5 311.0,11.0 315.0,7.5 320.0,6.5 324.0,8.0 327.0,15.0 331.0,27.0 334.0,37.0 337.0,52.0 340.0,63.0 342.0,72.5 346.0,73.0 348.0,68.0 351.0,53.0 354.0,43.0 357.0,34.0 359.0,28.0 363.0,25.0 365.0,23.5 368.0,25.0 372.0,29.0 374.0,29.5 377.0,24.0 379.0,15.0 382.0,10.0 386.5,7.0 390.0,13.0 392.0,17.0 395.0,17.5 398.0,24.0 400.0,31.0 402.0,30.0 405.0,33.0 408.0,38.0 411.0,46.0 414.0,51.5 417.0,46.0 420.0,42.5 423.0,36.0 426.0,40.0 428.0,45.5 432.0,42.5 435.0,42.0 438.0,38.0 441.0,29.0 444.0,22.0 448.0,12.0 451.0,17.5 455.0,26.0 458.0,35.0 462.0,48.0 465.0,56.0 468.0,50.0 471.0,38.0 474.0,24.0 477.0,18.0 478.0,13.0 482.0,12.0 484.0,11.0 487.0,12.5 489.0,14.5 491.0,12.0 494.0,10.5 497.0,8.0 500.0,10.0 503.0,15.0 506.0,17.0 510.0,17.0 513.0,14.0 517.0,9.0 522.0,8.5 525.0,10.0 526.0,12.5" fill="none" stroke="#ff0000" stroke-width="2.2" stroke-linejoin="round" shape-rendering="crispEdges"/>
<rect x="3" y="259" width="3" height="1" fill="#0000ff"/>
<rect x="9" y="259" width="3" height="1" fill="#0000ff"/>
<rect x="15" y="259" width="3" height="1" fill="#0000ff"/>
<rect x="21" y="259" width="3" height="1" fill="#0000ff"/>
<rect x="27" y="259" width="3" height="1" fill="#0000ff"/>
<rect x="33" y="259" width="3" height="1" fill="#0000ff"/>
<rect x="39" y="259" width="3" height="1" fill="#0000ff"/>
<rect x="45" y="259" width="3" height="1" fill="#0000ff"/>
<rect x="51" y="259" width="3" height="1" fill="#0000ff"/>
<rect x="57" y="259" width="3" height="1" fill="#0000ff"/>
<rect x="63" y="259" width="3" height="1" fill="#0000ff"/>
<rect x="69" y="259" width="3" height="1" fill="#0000ff"/>
<rect x="75" y="259" width="3" height="1" fill="#0000ff"/>
<rect x="81" y="259" width="3" height="1" fill="#0000ff"/>
<rect x="87" y="259" width="3" height="1" fill="#0000ff"/>
<rect x="93" y="259" width="3" height="1" fill="#0000ff"/>
<rect x="99" y="259" width="3" height="1" fill="#0000ff"/>
<rect x="105" y="259" width="3" height="1" fill="#0000ff"/>
<rect x="111" y="259" width="3" height="1" fill="#0000ff"/>
<rect x="117" y="259" width="3" height="1" fill="#0000ff"/>
<rect x="123" y="259" width="3" height="1" fill="#0000ff"/>
<rect x="129" y="259" width="3" height="1" fill="#0000ff"/>
<rect x="135" y="259" width="3" height="1" fill="#0000ff"/>
<rect x="141" y="259" width="3" height="1" fill="#0000ff"/>
<rect x="147" y="259" width="3" height="1" fill="#0000ff"/>
<rect x="153" y="259" width="3" height="1" fill="#0000ff"/>
<rect x="159" y="259" width="3" height="1" fill="#0000ff"/>
<rect x="165" y="259" width="3" height="1" fill="#0000ff"/>
<rect x="171" y="259" width="3" height="1" fill="#0000ff"/>
<rect x="177" y="259" width="3" height="1" fill="#0000ff"/>
<rect x="183" y="259" width="3" height="1" fill="#0000ff"/>
<rect x="189" y="259" width="3" height="1" fill="#0000ff"/>
<rect x="195" y="259" width="3" height="1" fill="#0000ff"/>
<rect x="201" y="259" width="3" height="1" fill="#0000ff"/>
<rect x="207" y="259" width="3" height="1" fill="#0000ff"/>
<rect x="213" y="259" width="3" height="1" fill="#0000ff"/>
<rect x="219" y="259" width="3" height="1" fill="#0000ff"/>
<rect x="225" y="259" width="3" height="1" fill="#0000ff"/>
<rect x="231" y="259" width="3" height="1" fill="#0000ff"/>
<rect x="237" y="259" width="3" height="1" fill="#0000ff"/>
<rect x="243" y="259" width="3" height="1" fill="#0000ff"/>
<rect x="249" y="259" width="3" height="1" fill="#0000ff"/>
<rect x="255" y="259" width="3" height="1" fill="#0000ff"/>
<rect x="261" y="259" width="3" height="1" fill="#0000ff"/>
<rect x="267" y="259" width="3" height="1" fill="#0000ff"/>
<rect x="273" y="259" width="3" height="1" fill="#0000ff"/>
<rect x="279" y="259" width="3" height="1" fill="#0000ff"/>
<rect x="285" y="259" width="3" height="1" fill="#0000ff"/>
<rect x="291" y="259" width="3" height="1" fill="#0000ff"/>
<rect x="297" y="259" width="3" height="1" fill="#0000ff"/>
<rect x="303" y="259" width="3" height="1" fill="#0000ff"/>
<rect x="309" y="259" width="3" height="1" fill="#0000ff"/>
<rect x="315" y="259" width="3" height="1" fill="#0000ff"/>
<rect x="321" y="259" width="3" height="1" fill="#0000ff"/>
<rect x="327" y="259" width="3" height="1" fill="#0000ff"/>
<rect x="333" y="259" width="3" height="1" fill="#0000ff"/>
<rect x="339" y="259" width="3" height="1" fill="#0000ff"/>
<rect x="345" y="259" width="3" height="1" fill="#0000ff"/>
<rect x="351" y="259" width="3" height="1" fill="#0000ff"/>
<rect x="357" y="259" width="3" height="1" fill="#0000ff"/>
<rect x="363" y="259" width="3" height="1" fill="#0000ff"/>
<rect x="369" y="259" width="3" height="1" fill="#0000ff"/>
<rect x="375" y="259" width="3" height="1" fill="#0000ff"/>
<rect x="381" y="259" width="3" height="1" fill="#0000ff"/>
<rect x="387" y="259" width="3" height="1" fill="#0000ff"/>
<rect x="393" y="259" width="3" height="1" fill="#0000ff"/>
<rect x="399" y="259" width="3" height="1" fill="#0000ff"/>
<rect x="405" y="259" width="3" height="1" fill="#0000ff"/>
<rect x="411" y="259" width="3" height="1" fill="#0000ff"/>
<rect x="417" y="259" width="3" height="1" fill="#0000ff"/>
<rect x="423" y="259" width="3" height="1" fill="#0000ff"/>
<rect x="429" y="259" width="3" height="1" fill="#0000ff"/>
<rect x="435" y="259" width="3" height="1" fill="#0000ff"/>
<rect x="441" y="259" width="3" height="1" fill="#0000ff"/>
<rect x="447" y="259" width="3" height="1" fill="#0000ff"/>
<rect x="453" y="259" width="3" height="1" fill="#0000ff"/>
<rect x="459" y="259" width="3" height="1" fill="#0000ff"/>
<rect x="465" y="259" width="3" height="1" fill="#0000ff"/>
<rect x="471" y="259" width="3" height="1" fill="#0000ff"/>
<rect x="477" y="259" width="3" height="1" fill="#0000ff"/>
<rect x="483" y="259" width="3" height="1" fill="#0000ff"/>
<rect x="489" y="259" width="3" height="1" fill="#0000ff"/>
<rect x="495" y="259" width="3" height="1" fill="#0000ff"/>
<rect x="501" y="259" width="3" height="1" fill="#0000ff"/>
<rect x="507" y="259" width="3" height="1" fill="#0000ff"/>
<rect x="513" y="259" width="3" height="1" fill="#0000ff"/>
<rect x="519" y="259" width="3" height="1" fill="#0000ff"/>
<rect x="525" y="259" width="3" height="1" fill="#0000ff"/>
<rect x="531" y="259" width="3" height="1" fill="#0000ff"/>
<rect x="537" y="259" width="3" height="1" fill="#0000ff"/>
<rect x="543" y="259" width="3" height="1" fill="#0000ff"/>
<rect x="549" y="259" width="3" height="1" fill="#0000ff"/>
<rect x="555" y="259" width="3" height="1" fill="#0000ff"/>
<rect x="561" y="259" width="3" height="1" fill="#0000ff"/>
<rect x="567" y="259" width="3" height="1" fill="#0000ff"/>
<polyline points="0.5,260.0 1.0,260.0 1.5,260.0 2.0,260.0 2.5,260.0 3.0,260.0 3.5,260.0 4.0,260.0 4.5,260.0 5.0,260.0 5.5,260.0 6.0,260.0 6.5,260.0 7.0,260.0 7.5,260.0 8.0,260.0 8.5,260.0 9.0,260.0 9.5,260.0 10.0,260.1 10.5,260.1 11.0,260.2 11.5,260.3 12.0,260.3 12.5,260.4 13.0,260.4 13.5,260.5 14.0,260.5 14.5,260.5 15.0,260.6 15.5,260.6 16.0,260.6 16.5,260.7 17.0,260.7 17.5,260.7 18.0,260.7 18.5,260.6 19.0,260.6 19.5,260.5 20.0,260.5 20.5,260.4 21.0,260.5 21.5,260.5 22.0,260.6 22.5,260.6 23.0,260.6 23.5,260.7 24.0,260.7 24.5,260.7 25.0,260.7 25.5,260.7 26.0,260.8 26.5,260.8 27.0,260.8 27.5,260.8 28.0,260.8 28.5,260.8 29.0,260.9 29.5,260.9 30.0,260.9 30.5,260.9 31.0,260.9 31.5,260.9 32.0,261.0 32.5,261.1 33.0,261.1 33.5,261.2 34.0,261.3 34.5,261.3 35.0,261.4 35.5,261.4 36.0,261.5 36.5,261.5 37.0,261.5 37.5,261.6 38.0,261.6 38.5,261.6 39.0,261.7 39.5,261.7 40.0,261.7 40.5,261.7 41.0,261.8 41.5,261.8 42.0,261.8 42.5,261.8 43.0,261.8 43.5,261.8 44.0,261.8 44.5,261.9 45.0,261.9 45.5,261.9 46.0,261.8 46.5,261.7 47.0,261.7 47.5,261.6 48.0,261.6 48.5,261.5 49.0,261.5 49.5,261.5 50.0,261.4 50.5,261.4 51.0,261.4 51.5,261.3 52.0,261.3 52.5,261.3 53.0,261.3 53.5,261.3 54.0,261.2 54.5,261.2 55.0,261.2 55.5,261.2 56.0,261.2 56.5,261.2 57.0,261.1 57.5,261.1 58.0,261.1 58.5,261.1 59.0,261.1 59.5,261.1 60.0,261.1 60.5,261.1 61.0,261.1 61.5,261.1 62.0,261.1 62.5,261.1 63.0,261.1 63.5,261.1 64.0,261.0 64.5,261.0 65.0,261.0 65.5,261.0 66.0,260.9 66.5,260.8 67.0,260.7 67.5,260.6 68.0,260.5 68.5,260.5 69.0,260.4 69.5,260.3 70.0,260.3 70.5,260.2 71.0,260.2 71.5,260.1 72.0,260.1 72.5,260.0 73.0,260.0 73.5,259.9 74.0,259.9 74.5,259.9 75.0,259.8 75.5,259.8 76.0,259.8 76.5,259.8 77.0,259.8 77.5,259.7 78.0,259.7 78.5,259.7 79.0,259.7 79.5,259.7 80.0,259.7 80.5,259.6 81.0,259.7 81.5,259.7 82.0,259.7 82.5,259.7 83.0,259.8 83.5,259.8 84.0,259.8 84.5,259.8 85.0,259.8 85.5,259.8 86.0,259.8 86.5,259.9 87.0,259.9 87.5,259.9 88.0,259.9 88.5,259.9 89.0,259.9 89.5,259.9 90.0,259.9 90.5,259.9 91.0,259.9 91.5,259.9 92.0,259.9 92.5,259.9 93.0,259.9 93.5,259.9 94.0,259.9 94.5,259.9 95.0,259.9 95.5,259.9 96.0,259.9 96.5,259.9 97.0,259.9 97.5,259.9 98.0,259.9 98.5,259.9 99.0,259.9 99.5,259.9 100.0,259.9 100.5,259.9 101.0,259.9 101.5,259.9 102.0,259.9 102.5,259.9 103.0,259.9 103.5,259.9 104.0,259.9 104.5,259.9 105.0,259.9 105.5,259.9 106.0,259.9 106.5,259.9 107.0,259.9 107.5,259.9 108.0,259.9 108.5,259.9 109.0,259.9 109.5,259.9 110.0,259.9 110.5,259.9 111.0,259.9 111.5,259.9 112.0,259.9 112.5,259.8 113.0,259.8 113.5,259.8 114.0,259.8 114.5,259.8 115.0,259.8 115.5,259.8 116.0,259.8 116.5,259.8 117.0,259.8 117.5,259.8 118.0,259.8 118.5,259.8 119.0,259.8 119.5,259.8 120.0,259.8 120.5,259.8 121.0,259.8 121.5,259.8 122.0,259.8 122.5,259.8 123.0,259.8 123.5,259.8 124.0,259.8 124.5,259.8 125.0,259.8 125.5,259.8 126.0,259.8 126.5,259.8 127.0,259.8 127.5,259.8 128.0,259.8 128.5,259.8 129.0,259.8 129.5,259.7 130.0,259.7 130.5,259.7 131.0,259.7 131.5,259.7 132.0,259.7 132.5,259.7 133.0,259.7 133.5,259.7 134.0,259.7 134.5,259.7 135.0,259.7 135.5,259.7 136.0,259.7 136.5,259.7 137.0,259.7 137.5,259.7 138.0,259.7 138.5,259.7 139.0,259.7 139.5,259.7 140.0,259.7 140.5,259.7 141.0,259.7 141.5,259.7 142.0,259.7 142.5,259.7 143.0,259.7 143.5,259.7 144.0,259.7 144.5,259.7 145.0,259.7 145.5,259.7 146.0,259.7 146.5,259.6 147.0,259.6 147.5,259.6 148.0,259.6 148.5,259.6 149.0,259.6 149.5,259.6 150.0,259.6 150.5,259.6 151.0,259.6 151.5,259.6 152.0,259.6 152.5,259.6 153.0,259.6 153.5,259.6 154.0,259.6 154.5,259.6 155.0,259.6 155.5,259.6 156.0,259.6 156.5,259.6 157.0,259.6 157.5,259.6 158.0,259.6 158.5,259.6 159.0,259.6 159.5,259.6 160.0,259.6 160.5,259.6 161.0,259.6 161.5,259.6 162.0,259.6 162.5,259.6 163.0,259.6 163.5,259.5 164.0,259.5 164.5,259.5 165.0,259.5 165.5,259.5 166.0,259.5 166.5,259.5 167.0,259.5 167.5,259.5 168.0,259.5 168.5,259.5 169.0,259.4 169.5,259.4 170.0,259.4 170.5,259.4 171.0,259.4 171.5,259.3 172.0,259.3 172.5,259.3 173.0,259.2 173.5,259.2 174.0,259.2 174.5,259.1 175.0,259.1 175.5,259.1 176.0,259.0 176.5,259.0 177.0,259.0 177.5,258.9 178.0,258.9 178.5,258.9 179.0,258.8 179.5,258.8 180.0,258.7 180.5,258.7 181.0,258.6 181.5,258.6 182.0,258.5 182.5,258.5 183.0,258.4 183.5,258.4 184.0,258.3 184.5,258.2 185.0,258.2 185.5,258.1 186.0,258.0 186.5,257.9 187.0,257.9 187.5,257.8 188.0,257.7 188.5,257.6 189.0,257.5 189.5,257.4 190.0,257.3 190.5,257.2 191.0,257.1 191.5,256.9 192.0,256.7 192.5,256.5 193.0,256.2 193.5,256.0 194.0,255.7 194.5,255.3 195.0,255.0 195.5,254.6 196.0,254.2 196.5,253.9 197.0,253.4 197.5,253.0 198.0,252.6 198.5,252.1 199.0,251.6 199.5,251.2 200.0,250.7 200.5,250.2 201.0,249.7 201.5,249.1 202.0,248.6 202.5,248.1 203.0,247.5 203.5,246.9 204.0,246.4 204.5,245.9 205.0,245.4 205.5,244.9 206.0,244.4 206.5,244.0 207.0,243.6 207.5,243.2 208.0,242.7 208.5,242.4 209.0,242.0 209.5,241.6 210.0,241.2 210.5,240.9 211.0,240.5 211.5,240.2 212.0,239.9 212.5,239.6 213.0,239.3 213.5,239.0 214.0,238.8 214.5,238.5 215.0,238.3 215.5,238.1 216.0,237.9 216.5,237.6 217.0,237.4 217.5,237.1 218.0,236.9 218.5,236.7 219.0,236.4 219.5,236.2 220.0,236.0 220.5,235.7 221.0,235.5 221.5,235.2 222.0,235.0 222.5,234.7 223.0,234.4 223.5,234.1 224.0,233.9 224.5,233.6 225.0,233.4 225.5,233.2 226.0,232.9 226.5,232.7 227.0,232.5 227.5,232.3 228.0,232.2 228.5,232.0 229.0,231.8 229.5,231.6 230.0,231.5 230.5,231.3 231.0,231.1 231.5,231.0 232.0,230.8 232.5,230.7 233.0,230.7 233.5,230.6 234.0,230.6 234.5,230.6 235.0,230.6 235.5,230.7 236.0,230.8 236.5,230.9 237.0,231.0 237.5,231.2 238.0,231.4 238.5,231.7 239.0,231.9 239.5,232.2 240.0,232.4 240.5,232.6 241.0,232.8 241.5,233.0 242.0,233.2 242.5,233.4 243.0,233.5 243.5,233.5 244.0,233.6 244.5,233.5 245.0,233.5 245.5,233.3 246.0,233.2 246.5,232.9 247.0,232.6 247.5,232.2 248.0,231.7 248.5,231.2 249.0,230.7 249.5,230.3 250.0,229.8 250.5,229.4 251.0,228.9 251.5,228.5 252.0,228.1 252.5,227.7 253.0,227.3 253.5,227.0 254.0,226.7 254.5,226.5 255.0,226.3 255.5,226.2 256.0,226.2 256.5,226.2 257.0,226.2 257.5,226.4 258.0,226.6 258.5,226.9 259.0,227.3 259.5,227.7 260.0,228.2 260.5,228.7 261.0,229.2 261.5,229.7 262.0,230.3 262.5,230.9 263.0,231.4 263.5,231.9 264.0,232.3 264.5,232.8 265.0,233.2 265.5,233.5 266.0,233.9 266.5,234.2 267.0,234.4 267.5,234.7 268.0,234.9 268.5,235.0 269.0,235.2 269.5,235.3 270.0,235.3 270.5,235.4 271.0,235.4 271.5,235.4 272.0,235.4 272.5,235.3 273.0,235.2 273.5,235.1 274.0,235.0 274.5,234.9 275.0,234.7 275.5,234.6 276.0,234.3 276.5,234.1 277.0,233.7 277.5,233.4 278.0,233.0 278.5,232.5 279.0,232.1 279.5,231.6 280.0,231.2 280.5,230.8 281.0,230.3 281.5,229.9 282.0,229.5 282.5,229.1 283.0,228.7 283.5,228.3 284.0,227.8 284.5,227.4 285.0,227.0 285.5,226.6 286.0,226.2 286.5,225.7 287.0,225.3 287.5,225.0 288.0,224.6 288.5,224.3 289.0,224.0 289.5,223.7 290.0,223.4 290.5,223.1 291.0,222.9 291.5,222.6 292.0,222.4 292.5,222.2 293.0,221.9 293.5,221.6 294.0,221.3 294.5,220.9 295.0,220.6 295.5,220.1 296.0,219.7 296.5,219.1 297.0,218.6 297.5,217.9 298.0,217.3 298.5,216.6 299.0,215.9 299.5,215.2 300.0,214.6 300.5,213.9 301.0,213.3 301.5,212.7 302.0,212.1 302.5,211.5 303.0,210.9 303.5,210.3 304.0,209.8 304.5,209.3 305.0,208.9 305.5,208.4 306.0,208.0 306.5,207.5 307.0,207.1 307.5,206.8 308.0,206.4 308.5,206.1 309.0,205.7 309.5,205.4 310.0,205.1 310.5,204.8 311.0,204.6 311.5,204.3 312.0,204.1 312.5,203.9 313.0,203.6 313.5,203.4 314.0,203.3 314.5,203.1 315.0,202.9 315.5,202.8 316.0,202.7 316.5,202.5 317.0,202.4 317.5,202.4 318.0,202.3 318.5,202.3 319.0,202.3 319.5,202.3 320.0,202.3 320.5,202.4 321.0,202.5 321.5,202.6 322.0,202.7 322.5,202.9 323.0,203.1 323.5,203.3 324.0,203.6 324.5,203.8 325.0,204.1 325.5,204.5 326.0,205.0 326.5,205.5 327.0,206.1 327.5,206.8 328.0,207.6 328.5,208.4 329.0,209.3 329.5,210.3 330.0,211.3 330.5,212.3 331.0,213.3 331.5,214.3 332.0,215.4 332.5,216.5 333.0,217.7 333.5,218.9 334.0,220.2 334.5,221.5 335.0,222.8 335.5,224.1 336.0,225.3 336.5,226.5 337.0,227.6 337.5,228.7 338.0,229.8 338.5,230.8 339.0,231.8 339.5,232.8 340.0,233.7 340.5,234.6 341.0,235.5 341.5,236.3 342.0,237.1 342.5,237.8 343.0,238.5 343.5,239.1 344.0,239.7 344.5,240.3 345.0,240.9 345.5,241.5 346.0,242.0 346.5,242.5 347.0,243.1 347.5,243.6 348.0,244.0 348.5,244.4 349.0,244.7 349.5,244.9 350.0,245.0 350.5,245.2 351.0,245.2 351.5,245.3 352.0,245.2 352.5,245.2 353.0,245.1 353.5,245.0 354.0,244.9 354.5,244.8 355.0,244.7 355.5,244.6 356.0,244.5 356.5,244.3 357.0,244.2 357.5,244.1 358.0,244.0 358.5,243.9 359.0,243.8 359.5,243.7 360.0,243.5 360.5,243.4 361.0,243.3 361.5,243.2 362.0,243.1 362.5,243.0 363.0,243.0 363.5,243.0 364.0,243.0 364.5,243.0 365.0,243.0 365.5,243.1 366.0,243.1 366.5,243.2 367.0,243.3 367.5,243.4 368.0,243.6 368.5,243.7 369.0,243.9 369.5,244.0 370.0,244.2 370.5,244.3 371.0,244.5 371.5,244.6 372.0,244.7 372.5,244.9 373.0,245.0 373.5,245.1 374.0,245.2 374.5,245.4 375.0,245.5 375.5,245.6 376.0,245.6 376.5,245.5 377.0,245.3 377.5,245.0 378.0,244.6 378.5,244.1 379.0,243.6 379.5,242.9 380.0,242.2 380.5,241.4 381.0,240.6 381.5,239.8 382.0,238.9 382.5,238.1 383.0,237.3 383.5,236.5 384.0,235.7 384.5,234.9 385.0,233.9 385.5,233.0 386.0,231.9 386.5,230.8 387.0,229.6 387.5,228.3 388.0,227.1 388.5,225.9 389.0,224.7 389.5,223.5 390.0,222.4 390.5,221.4 391.0,220.5 391.5,219.6 392.0,218.8 392.5,218.1 393.0,217.4 393.5,216.8 394.0,216.2 394.5,215.7 395.0,215.2 395.5,214.8 396.0,214.4 396.5,214.1 397.0,213.8 397.5,213.5 398.0,213.3 398.5,213.1 399.0,213.0 399.5,212.9 400.0,212.9 400.5,212.9 401.0,213.0 401.5,213.0 402.0,213.1 402.5,213.3 403.0,213.5 403.5,213.6 404.0,213.9 404.5,214.1 405.0,214.3 405.5,214.6 406.0,215.0 406.5,215.3 407.0,215.8 407.5,216.2 408.0,216.7 408.5,217.3 409.0,217.9 409.5,218.6 410.0,219.4 410.5,220.3 411.0,221.2 411.5,222.1 412.0,223.1 412.5,224.0 413.0,224.9 413.5,225.8 414.0,226.5 414.5,227.2 415.0,227.9 415.5,228.5 416.0,229.0 416.5,229.5 417.0,229.9 417.5,230.2 418.0,230.4 418.5,230.6 419.0,230.8 419.5,231.0 420.0,231.1 420.5,231.2 421.0,231.4 421.5,231.5 422.0,231.6 422.5,231.7 423.0,231.8 423.5,231.9 424.0,232.0 424.5,232.1 425.0,232.2 425.5,232.3 426.0,232.4 426.5,232.5 427.0,232.7 427.5,232.9 428.0,233.0 428.5,233.2 429.0,233.3 429.5,233.4 430.0,233.6 430.5,233.7 431.0,233.8 431.5,233.9 432.0,233.9 432.5,234.0 433.0,234.1 433.5,234.2 434.0,234.2 434.5,234.3 435.0,234.3 435.5,234.4 436.0,234.4 436.5,234.5 437.0,234.5 437.5,234.6 438.0,234.6 438.5,234.5 439.0,234.5 439.5,234.4 440.0,234.3 440.5,234.2 441.0,234.0 441.5,233.8 442.0,233.7 442.5,233.5 443.0,233.2 443.5,233.0 444.0,232.7 444.5,232.5 445.0,232.2 445.5,231.8 446.0,231.5 446.5,231.0 447.0,230.5 447.5,230.0 448.0,229.4 448.5,228.8 449.0,228.2 449.5,227.6 450.0,226.9 450.5,226.4 451.0,225.8 451.5,225.2 452.0,224.7 452.5,224.2 453.0,223.8 453.5,223.5 454.0,223.2 454.5,223.0 455.0,222.8 455.5,222.7 456.0,222.7 456.5,222.7 457.0,222.9 457.5,223.0 458.0,223.2 458.5,223.5 459.0,223.8 459.5,224.1 460.0,224.4 460.5,224.8 461.0,225.2 461.5,225.6 462.0,226.1 462.5,226.4 463.0,226.8 463.5,227.2 464.0,227.5 464.5,227.8 465.0,228.1 465.5,228.4 466.0,228.6 466.5,228.8 467.0,228.9 467.5,229.0 468.0,229.1 468.5,229.1 469.0,229.0 469.5,228.9 470.0,228.8 470.5,228.7 471.0,228.5 471.5,228.3 472.0,228.1 472.5,227.9 473.0,227.7 473.5,227.4 474.0,227.2 474.5,226.9 475.0,226.7 475.5,226.4 476.0,226.1 476.5,225.9 477.0,225.6 477.5,225.3 478.0,225.0 478.5,224.6 479.0,224.1 479.5,223.6 480.0,223.1 480.5,222.5 481.0,221.8 481.5,221.2 482.0,220.6 482.5,219.9 483.0,219.3 483.5,218.6 484.0,218.0 484.5,217.3 485.0,216.6 485.5,216.0 486.0,215.4 486.5,214.8 487.0,214.2 487.5,213.6 488.0,213.1 488.5,212.5 489.0,212.0 489.5,211.5 490.0,210.9 490.5,210.2 491.0,209.6 491.5,208.8 492.0,208.0 492.5,207.2 493.0,206.3 493.5,205.5 494.0,204.6 494.5,203.7 495.0,202.7 495.5,201.8 496.0,200.7 496.5,199.7 497.0,198.5 497.5,197.3 498.0,196.1 498.5,194.8 499.0,193.6 499.5,192.4 500.0,191.2 500.5,190.1 501.0,189.0 501.5,188.0 502.0,187.0 502.5,186.0 503.0,185.1 503.5,184.3 504.0,183.4 504.5,182.7 505.0,181.9 505.5,181.1 506.0,180.3 506.5,179.5 507.0,178.7 507.5,177.9 508.0,177.1 508.5,176.4 509.0,175.6 509.5,174.9 510.0,174.3 510.5,173.7 511.0,173.2 511.5,172.7 512.0,172.4 512.5,172.0 513.0,171.7 513.5,171.3 514.0,170.8 514.5,170.4 515.0,169.9 515.5,169.4 516.0,168.7 516.5,167.8 517.0,166.9 517.5,165.7 518.0,164.5 518.5,163.2 519.0,161.8 519.5,160.3 520.0,158.9 520.5,157.5 521.0,156.1 521.5,154.7 522.0,153.4 522.5,152.1 523.0,150.8 523.5,149.5 524.0,148.3 524.5,147.1 525.0,146.0 525.5,145.0" fill="none" stroke="#ff0000" stroke-width="1.2" stroke-dasharray="2.5,4" shape-rendering="crispEdges"/>
<polyline points="0.0,260.0 9.0,260.0 9.5,261.0 17.0,261.0 17.5,260.0 20.0,260.0 20.5,261.0 31.0,261.0 31.5,262.0 45.0,262.0 45.5,261.0 65.0,261.0 65.5,259.5 80.0,259.5 80.5,260.0 165.0,259.5 177.0,258.5 184.0,257.5 190.0,256.0 196.0,249.0 200.0,244.0 203.0,240.0 207.0,238.0 211.0,236.0 215.0,235.5 217.0,234.0 220.0,233.0 222.0,231.0 227.0,230.0 231.0,229.0 233.0,230.0 236.0,232.0 238.0,235.0 242.0,235.5 245.0,232.0 248.0,225.0 252.6,222.4 256.0,226.0 259.0,233.0 262.0,238.0 266.0,238.0 270.0,236.0 275.0,232.5 278.0,227.0 282.0,224.0 286.0,220.5 292.0,219.5 295.0,215.0 298.0,208.0 302.0,204.0 307.0,202.0 312.0,201.0 316.0,201.0 320.0,203.0 324.0,207.0 326.0,212.0 329.0,222.0 332.0,230.0 334.0,238.0 336.0,241.0 340.0,246.0 344.0,247.5 347.0,250.0 349.5,247.0 353.0,243.7 361.0,241.7 365.0,243.7 369.0,246.0 375.0,247.0 376.5,243.0 380.0,231.5 384.0,224.7 387.0,213.0 389.0,209.0 394.0,209.0 398.0,211.0 400.0,213.0 405.0,218.0 408.0,224.0 410.0,231.0 412.0,236.0 415.0,236.0 418.0,233.0 424.0,233.0 427.0,235.0 437.0,235.0 442.0,231.0 445.0,228.0 448.0,221.0 451.0,218.0 454.0,220.0 457.0,225.0 461.0,231.0 465.0,232.0 468.0,229.0 472.0,225.0 477.0,222.0 480.0,215.0 484.0,209.0 489.0,205.0 492.0,197.0 495.0,190.0 498.0,179.0 501.0,175.0 504.0,173.0 507.0,168.0 509.0,166.0 512.0,168.0 515.0,163.0 517.0,152.0 519.0,142.0 522.0,136.0 524.0,132.0 526.0,134.0" fill="none" stroke="#ff0000" stroke-width="2.2" stroke-linejoin="round" shape-rendering="crispEdges"/>
<rect x="409" y="317" width="3" height="1" fill="#0000ff"/>
<rect x="415" y="317" width="3" height="1" fill="#0000ff"/>
<rect x="421" y="317" width="3" height="1" fill="#0000ff"/>
<rect x="427" y="317" width="3" height="1" fill="#0000ff"/>
<rect x="433" y="317" width="3" height="1" fill="#0000ff"/>
<rect x="439" y="317" width="3" height="1" fill="#0000ff"/>
<rect x="445" y="317" width="3" height="1" fill="#0000ff"/>
<rect x="451" y="317" width="3" height="1" fill="#0000ff"/>
<rect x="457" y="317" width="3" height="1" fill="#0000ff"/>
<rect x="463" y="317" width="3" height="1" fill="#0000ff"/>
<rect x="469" y="317" width="3" height="1" fill="#0000ff"/>
<rect x="475" y="317" width="3" height="1" fill="#0000ff"/>
<rect x="481" y="317" width="3" height="1" fill="#0000ff"/>
<rect x="487" y="317" width="3" height="1" fill="#0000ff"/>
<rect x="493" y="317" width="3" height="1" fill="#0000ff"/>
<rect x="499" y="317" width="3" height="1" fill="#0000ff"/>
<rect x="505" y="317" width="3" height="1" fill="#0000ff"/>
<rect x="511" y="317" width="3" height="1" fill="#0000ff"/>
<rect x="517" y="317" width="3" height="1" fill="#0000ff"/>
<rect x="523" y="317" width="3" height="1" fill="#0000ff"/>
<rect x="529" y="317" width="3" height="1" fill="#0000ff"/>
<rect x="535" y="317" width="3" height="1" fill="#0000ff"/>
<rect x="541" y="317" width="3" height="1" fill="#0000ff"/>
<rect x="547" y="317" width="3" height="1" fill="#0000ff"/>
<rect x="553" y="317" width="3" height="1" fill="#0000ff"/>
<rect x="559" y="317" width="3" height="1" fill="#0000ff"/>
<rect x="565" y="317" width="3" height="1" fill="#0000ff"/>
<rect x="571" y="317" width="1" height="1" fill="#0000ff"/>
<rect x="409" y="378" width="3" height="1" fill="#0000ff"/>
<rect x="415" y="378" width="3" height="1" fill="#0000ff"/>
<rect x="421" y="378" width="3" height="1" fill="#0000ff"/>
<rect x="427" y="378" width="3" height="1" fill="#0000ff"/>
<rect x="433" y="378" width="3" height="1" fill="#0000ff"/>
<rect x="439" y="378" width="3" height="1" fill="#0000ff"/>
<rect x="445" y="378" width="3" height="1" fill="#0000ff"/>
<rect x="451" y="378" width="3" height="1" fill="#0000ff"/>
<rect x="457" y="378" width="3" height="1" fill="#0000ff"/>
<rect x="463" y="378" width="3" height="1" fill="#0000ff"/>
<rect x="469" y="378" width="3" height="1" fill="#0000ff"/>
<rect x="475" y="378" width="3" height="1" fill="#0000ff"/>
<rect x="481" y="378" width="3" height="1" fill="#0000ff"/>
<rect x="487" y="378" width="3" height="1" fill="#0000ff"/>
<rect x="493" y="378" width="3" height="1" fill="#0000ff"/>
<rect x="499" y="378" width="3" height="1" fill="#0000ff"/>
<rect x="505" y="378" width="3" height="1" fill="#0000ff"/>
<rect x="511" y="378" width="3" height="1" fill="#0000ff"/>
<rect x="517" y="378" width="3" height="1" fill="#0000ff"/>
<rect x="523" y="378" width="3" height="1" fill="#0000ff"/>
<rect x="529" y="378" width="3" height="1" fill="#0000ff"/>
<rect x="535" y="378" width="3" height="1" fill="#0000ff"/>
<rect x="541" y="378" width="3" height="1" fill="#0000ff"/>
<rect x="547" y="378" width="3" height="1" fill="#0000ff"/>
<rect x="553" y="378" width="3" height="1" fill="#0000ff"/>
<rect x="559" y="378" width="3" height="1" fill="#0000ff"/>
<rect x="565" y="378" width="3" height="1" fill="#0000ff"/>
<rect x="571" y="378" width="1" height="1" fill="#0000ff"/>
<rect x="409" y="416" width="164" height="1" fill="#0000ff"/>
<rect x="409" y="439" width="3" height="1" fill="#0000ff"/>
<rect x="415" y="439" width="3" height="1" fill="#0000ff"/>
<rect x="421" y="439" width="3" height="1" fill="#0000ff"/>
<rect x="427" y="439" width="3" height="1" fill="#0000ff"/>
<rect x="433" y="439" width="3" height="1" fill="#0000ff"/>
<rect x="439" y="439" width="3" height="1" fill="#0000ff"/>
<rect x="445" y="439" width="3" height="1" fill="#0000ff"/>
<rect x="451" y="439" width="3" height="1" fill="#0000ff"/>
<rect x="457" y="439" width="3" height="1" fill="#0000ff"/>
<rect x="463" y="439" width="3" height="1" fill="#0000ff"/>
<rect x="469" y="439" width="3" height="1" fill="#0000ff"/>
<rect x="475" y="439" width="3" height="1" fill="#0000ff"/>
<rect x="481" y="439" width="3" height="1" fill="#0000ff"/>
<rect x="487" y="439" width="3" height="1" fill="#0000ff"/>
<rect x="493" y="439" width="3" height="1" fill="#0000ff"/>
<rect x="499" y="439" width="3" height="1" fill="#0000ff"/>
<rect x="505" y="439" width="3" height="1" fill="#0000ff"/>
<rect x="511" y="439" width="3" height="1" fill="#0000ff"/>
<rect x="517" y="439" width="3" height="1" fill="#0000ff"/>
<rect x="523" y="439" width="3" height="1" fill="#0000ff"/>
<rect x="529" y="439" width="3" height="1" fill="#0000ff"/>
<rect x="535" y="439" width="3" height="1" fill="#0000ff"/>
<rect x="541" y="439" width="3" height="1" fill="#0000ff"/>
<rect x="547" y="439" width="3" height="1" fill="#0000ff"/>
<rect x="553" y="439" width="3" height="1" fill="#0000ff"/>
<rect x="559" y="439" width="3" height="1" fill="#0000ff"/>
<rect x="565" y="439" width="3" height="1" fill="#0000ff"/>
<rect x="571" y="439" width="1" height="1" fill="#0000ff"/>
<rect x="409" y="446" width="3" height="1" fill="#0000ff"/>
<rect x="415" y="446" width="3" height="1" fill="#0000ff"/>
<rect x="421" y="446" width="3" height="1" fill="#0000ff"/>
<rect x="427" y="446" width="3" height="1" fill="#0000ff"/>
<rect x="433" y="446" width="3" height="1" fill="#0000ff"/>
<rect x="439" y="446" width="3" height="1" fill="#0000ff"/>
<rect x="445" y="446" width="3" height="1" fill="#0000ff"/>
<rect x="451" y="446" width="3" height="1" fill="#0000ff"/>
<rect x="457" y="446" width="3" height="1" fill="#0000ff"/>
<rect x="463" y="446" width="3" height="1" fill="#0000ff"/>
<rect x="469" y="446" width="3" height="1" fill="#0000ff"/>
<rect x="475" y="446" width="3" height="1" fill="#0000ff"/>
<rect x="481" y="446" width="3" height="1" fill="#0000ff"/>
<rect x="487" y="446" width="3" height="1" fill="#0000ff"/>
<rect x="493" y="446" width="3" height="1" fill="#0000ff"/>
<rect x="499" y="446" width="3" height="1" fill="#0000ff"/>
<rect x="505" y="446" width="3" height="1" fill="#0000ff"/>
<rect x="511" y="446" width="3" height="1" fill="#0000ff"/>
<rect x="517" y="446" width="3" height="1" fill="#0000ff"/>
<rect x="523" y="446" width="3" height="1" fill="#0000ff"/>
<rect x="529" y="446" width="3" height="1" fill="#0000ff"/>
<rect x="535" y="446" width="3" height="1" fill="#0000ff"/>
<rect x="541" y="446" width="3" height="1" fill="#0000ff"/>
<rect x="547" y="446" width="3" height="1" fill="#0000ff"/>
<rect x="553" y="446" width="3" height="1" fill="#0000ff"/>
<rect x="559" y="446" width="3" height="1" fill="#0000ff"/>
<rect x="565" y="446" width="3" height="1" fill="#0000ff"/>
<rect x="571" y="446" width="1" height="1" fill="#0000ff"/>
<rect x="409" y="453" width="3" height="1" fill="#0000ff"/>
<rect x="415" y="453" width="3" height="1" fill="#0000ff"/>
<rect x="421" y="453" width="3" height="1" fill="#0000ff"/>
<rect x="427" y="453" width="3" height="1" fill="#0000ff"/>
<rect x="433" y="453" width="3" height="1" fill="#0000ff"/>
<rect x="439" y="453" width="3" height="1" fill="#0000ff"/>
<rect x="445" y="453" width="3" height="1" fill="#0000ff"/>
<rect x="451" y="453" width="3" height="1" fill="#0000ff"/>
<rect x="457" y="453" width="3" height="1" fill="#0000ff"/>
<rect x="463" y="453" width="3" height="1" fill="#0000ff"/>
<rect x="469" y="453" width="3" height="1" fill="#0000ff"/>
<rect x="475" y="453" width="3" height="1" fill="#0000ff"/>
<rect x="481" y="453" width="3" height="1" fill="#0000ff"/>
<rect x="487" y="453" width="3" height="1" fill="#0000ff"/>
<rect x="493" y="453" width="3" height="1" fill="#0000ff"/>
<rect x="499" y="453" width="3" height="1" fill="#0000ff"/>
<rect x="505" y="453" width="3" height="1" fill="#0000ff"/>
<rect x="511" y="453" width="3" height="1" fill="#0000ff"/>
<rect x="517" y="453" width="3" height="1" fill="#0000ff"/>
<rect x="523" y="453" width="3" height="1" fill="#0000ff"/>
<rect x="529" y="453" width="3" height="1" fill="#0000ff"/>
<rect x="535" y="453" width="3" height="1" fill="#0000ff"/>
<rect x="541" y="453" width="3" height="1" fill="#0000ff"/>
<rect x="547" y="453" width="3" height="1" fill="#0000ff"/>
<rect x="553" y="453" width="3" height="1" fill="#0000ff"/>
<rect x="559" y="453" width="3" height="1" fill="#0000ff"/>
<rect x="565" y="453" width="3" height="1" fill="#0000ff"/>
<rect x="571" y="453" width="1" height="1" fill="#0000ff"/>
<rect x="409" y="462" width="3" height="1" fill="#0000ff"/>
<rect x="415" y="462" width="3" height="1" fill="#0000ff"/>
<rect x="421" y="462" width="3" height="1" fill="#0000ff"/>
<rect x="427" y="462" width="3" height="1" fill="#0000ff"/>
<rect x="433" y="462" width="3" height="1" fill="#0000ff"/>
<rect x="439" y="462" width="3" height="1" fill="#0000ff"/>
<rect x="445" y="462" width="3" height="1" fill="#0000ff"/>
<rect x="451" y="462" width="3" height="1" fill="#0000ff"/>
<rect x="457" y="462" width="3" height="1" fill="#0000ff"/>
<rect x="463" y="462" width="3" height="1" fill="#0000ff"/>
<rect x="469" y="462" width="3" height="1" fill="#0000ff"/>
<rect x="475" y="462" width="3" height="1" fill="#0000ff"/>
<rect x="481" y="462" width="3" height="1" fill="#0000ff"/>
<rect x="487" y="462" width="3" height="1" fill="#0000ff"/>
<rect x="493" y="462" width="3" height="1" fill="#0000ff"/>
<rect x="499" y="462" width="3" height="1" fill="#0000ff"/>
<rect x="505" y="462" width="3" height="1" fill="#0000ff"/>
<rect x="511" y="462" width="3" height="1" fill="#0000ff"/>
<rect x="517" y="462" width="3" height="1" fill="#0000ff"/>
<rect x="523" y="462" width="3" height="1" fill="#0000ff"/>
<rect x="529" y="462" width="3" height="1" fill="#0000ff"/>
<rect x="535" y="462" width="3" height="1" fill="#0000ff"/>
<rect x="541" y="462" width="3" height="1" fill="#0000ff"/>
<rect x="547" y="462" width="3" height="1" fill="#0000ff"/>
<rect x="553" y="462" width="3" height="1" fill="#0000ff"/>
<rect x="559" y="462" width="3" height="1" fill="#0000ff"/>
<rect x="565" y="462" width="3" height="1" fill="#0000ff"/>
<rect x="571" y="462" width="1" height="1" fill="#0000ff"/>
<rect x="409" y="476" width="164" height="1" fill="#0000ff"/>
<text transform="translate(398.8,321.6) scale(1.05,1)" font-family="Liberation Sans, sans-serif" font-size="12" fill="#0000ff" text-anchor="end">261.8%</text>
<text transform="translate(398.8,382.6) scale(1.05,1)" font-family="Liberation Sans, sans-serif" font-size="12" fill="#0000ff" text-anchor="end">161.8%</text>
<text transform="translate(398.8,420.6) scale(1.05,1)" font-family="Liberation Sans, sans-serif" font-size="12" fill="#0000ff" text-anchor="end">100.0%</text>
<text transform="translate(398.8,443.6) scale(1.05,1)" font-family="Liberation Sans, sans-serif" font-size="12" fill="#0000ff" text-anchor="end">61.8%</text>
<text transform="translate(398.8,450.6) scale(1.05,1)" font-family="Liberation Sans, sans-serif" font-size="12" fill="#0000ff" text-anchor="end">50.0%</text>
<text transform="translate(398.8,457.6) scale(1.05,1)" font-family="Liberation Sans, sans-serif" font-size="12" fill="#0000ff" text-anchor="end">38.2%</text>
<text transform="translate(398.8,466.6) scale(1.05,1)" font-family="Liberation Sans, sans-serif" font-size="12" fill="#0000ff" text-anchor="end">23.6%</text>
<text transform="translate(398.8,480.6) scale(1.05,1)" font-family="Liberation Sans, sans-serif" font-size="12" fill="#0000ff" text-anchor="end">0.0%</text>
<polyline points="183.0,570.0 190.0,568.0 194.0,565.0 199.0,556.0 203.0,553.5 210.0,549.0 216.0,545.0 222.0,541.7 227.0,539.0 231.0,538.0 235.0,539.0 239.0,539.5 244.0,537.4 246.7,531.4 250.0,526.7 254.4,525.4 258.7,525.4 261.2,526.3 266.3,525.0 272.3,522.0 277.0,518.6 285.4,510.9 294.3,502.0 298.1,493.9 301.6,487.9 305.8,485.3 308.8,481.9 311.0,480.2 316.0,476.4 321.1,475.1 326.0,475.5 332.5,478.1 335.9,481.1 338.5,480.2 353.0,480.2 359.8,482.8 366.6,485.3 372.0,485.0 385.0,466.6 393.0,453.0 404.0,442.4 408.6,442.4 414.6,447.0 419.3,450.0 425.1,449.1 431.0,451.2 437.9,450.8 440.4,447.4 443.9,443.1 449.0,434.6 450.7,432.0 455.0,432.5 457.5,433.3 460.0,432.5 465.1,430.8 470.0,429.5 476.0,424.2 483.9,412.7 489.9,400.8 495.8,384.9 500.8,372.0 506.8,356.8 514.5,346.6 519.6,327.4 525.3,308.2" fill="none" stroke="#ff0000" stroke-width="1" shape-rendering="crispEdges"/>
<polyline points="183.0,571.0 190.0,570.0 200.0,567.0 210.0,562.0 220.0,557.0 228.0,553.5 240.0,549.0 256.0,540.8 270.6,537.8 278.0,533.0 284.5,529.6 294.7,525.4 303.3,516.0 308.4,510.9 317.7,500.2 326.0,495.6 331.7,493.0 341.0,493.4 353.8,494.7 362.3,495.6 370.0,496.4 374.0,495.6 382.2,490.0 390.0,482.0 397.0,474.0 404.0,471.7 408.0,470.0 414.6,466.6 422.0,462.8 430.0,462.0 440.0,461.0 445.0,456.0 450.0,450.0 460.0,447.0 470.0,443.0 480.9,437.6 490.9,429.6 500.8,415.7 505.8,405.8 516.0,389.9 525.3,368.3" fill="none" stroke="#ff0000" stroke-width="1" shape-rendering="crispEdges"/>
<polyline points="183.0,572.0 190.0,573.0 196.0,575.0 203.0,578.0 210.0,577.0 218.0,575.0 223.0,572.0 230.0,566.0 236.0,561.0 240.0,558.3 246.0,558.0 249.0,560.0 253.0,557.7 257.0,555.0 262.0,554.0 268.0,552.0 275.0,551.0 279.4,549.3 287.0,546.0 298.7,548.7 303.8,542.3 314.0,529.4 321.8,519.0 335.0,506.3 340.2,506.6 347.9,508.3 355.0,508.3 362.0,507.5 373.0,507.3 375.5,506.2 378.0,506.3 380.0,509.3 385.0,509.5 387.5,512.5 390.0,509.5 395.0,509.3 399.0,507.5 405.0,500.0 410.0,496.8 413.0,490.0 418.0,478.6 422.0,476.0 430.0,474.0 442.0,475.0 448.0,479.0 452.0,477.0 455.8,470.4 460.9,467.8 467.7,463.6 472.0,463.0 480.0,456.0 485.0,457.5 490.0,457.0 494.0,462.0 498.0,464.0 503.0,457.0 507.0,452.0 512.0,442.0 515.0,440.0 520.0,436.0 525.0,430.0 526.0,427.0" fill="none" stroke="#ff0000" stroke-width="1" shape-rendering="crispEdges"/>
<rect x="0" y="567" width="5" height="1" fill="#f00"/>
<rect x="0" y="568" width="39" height="1" fill="#f00"/>
<rect x="0" y="569" width="55" height="2" fill="#f00"/>
<rect x="0" y="571" width="55" height="1" fill="#f00"/>
<rect x="0" y="570" width="12" height="1" fill="#fff"/>
<rect x="2" y="568" width="2" height="1" fill="#fff"/>
<rect x="20" y="570" width="8" height="1" fill="#fff"/>
<rect x="33" y="571" width="3" height="1" fill="#f00"/>
<rect x="55" y="569" width="55" height="3" fill="#f00"/>
<rect x="67" y="570" width="38" height="1" fill="#fff"/>
<rect x="110" y="570" width="73" height="2" fill="#f00"/>
<rect x="150" y="572" width="33" height="1" fill="#f00"/>
<rect x="183" y="570" width="2" height="2" fill="#f00"/>
<rect x="13" y="570" width="3" height="1" fill="#008000" shape-rendering="crispEdges"/>
<rect x="25" y="570" width="5" height="1" fill="#008000" shape-rendering="crispEdges"/>
<rect x="41" y="571" width="3" height="1" fill="#008000" shape-rendering="crispEdges"/>
<rect x="60" y="567" width="2" height="2" fill="#008000" shape-rendering="crispEdges"/>
<rect x="63" y="566" width="3" height="3" fill="#008000" shape-rendering="crispEdges"/>
<rect x="84" y="570" width="3" height="1" fill="#008000" shape-rendering="crispEdges"/>
<rect x="158" y="570" width="9" height="1" fill="#008000" shape-rendering="crispEdges"/>
<rect x="173" y="569" width="9" height="1" fill="#008000" shape-rendering="crispEdges"/>
<rect x="180" y="569" width="2" height="3" fill="#ff0000" shape-rendering="crispEdges"/>
<rect x="183" y="568" width="2" height="2" fill="#008000" shape-rendering="crispEdges"/>
<rect x="186" y="569" width="2" height="1" fill="#008000" shape-rendering="crispEdges"/>
<rect x="188" y="567" width="2" height="1" fill="#008000" shape-rendering="crispEdges"/>
<rect x="191" y="564" width="2" height="4" fill="#008000" shape-rendering="crispEdges"/>
<rect x="193" y="561" width="2" height="3" fill="#008000" shape-rendering="crispEdges"/>
<rect x="195" y="560" width="2" height="1" fill="#008000" shape-rendering="crispEdges"/>
<rect x="197" y="561" width="2" height="1" fill="#008000" shape-rendering="crispEdges"/>
<rect x="198" y="555" width="2" height="6" fill="#008000" shape-rendering="crispEdges"/>
<rect x="201" y="553" width="3" height="2" fill="#008000" shape-rendering="crispEdges"/>
<rect x="204" y="553" width="3" height="2" fill="#ff0000" shape-rendering="crispEdges"/>
<rect x="208" y="553" width="2" height="5" fill="#008000" shape-rendering="crispEdges"/>
<rect x="211" y="552" width="2" height="3" fill="#ff0000" shape-rendering="crispEdges"/>
<rect x="212" y="552" width="2" height="3" fill="#008000" shape-rendering="crispEdges"/>
<rect x="214.5" y="546.5" width="2" height="5" fill="none" stroke="#008000" stroke-width="1" shape-rendering="crispEdges"/>
<rect x="218" y="543" width="2" height="3" fill="#008000" shape-rendering="crispEdges"/>
<rect x="219" y="545" width="2" height="1" fill="#008000" shape-rendering="crispEdges"/>
<rect x="222" y="544" width="2" height="3" fill="#008000" shape-rendering="crispEdges"/>
<rect x="225" y="543" width="3" height="3" fill="#008000" shape-rendering="crispEdges"/>
<rect x="228" y="541" width="2" height="4" fill="#008000" shape-rendering="crispEdges"/>
<rect x="230" y="541" width="2" height="1" fill="#008000" shape-rendering="crispEdges"/>
<rect x="233" y="542" width="2" height="6" fill="#ff0000" shape-rendering="crispEdges"/>
<rect x="234" y="544" width="2" height="7" fill="#008000" shape-rendering="crispEdges"/>
<rect x="236" y="545" width="2" height="5" fill="#ff0000" shape-rendering="crispEdges"/>
<rect x="238" y="544" width="2" height="11" fill="#008000" shape-rendering="crispEdges"/>
<rect x="243" y="535" width="2" height="9" fill="#008000" shape-rendering="crispEdges"/>
<rect x="245" y="528" width="2" height="6" fill="#008000" shape-rendering="crispEdges"/>
<rect x="247" y="521" width="2" height="7" fill="#008000" shape-rendering="crispEdges"/>
<rect x="249" y="525" width="2" height="6" fill="#ff0000" shape-rendering="crispEdges"/>
<rect x="251.5" y="527.5" width="2" height="3" fill="none" stroke="#008000" stroke-width="1" shape-rendering="crispEdges"/>
<rect x="254" y="525" width="2" height="8" fill="#ff0000" shape-rendering="crispEdges"/>
<rect x="256" y="531" width="2" height="13" fill="#ff0000" shape-rendering="crispEdges"/>
<rect x="259" y="539" width="2" height="6" fill="#ff0000" shape-rendering="crispEdges"/>
<rect x="262" y="538" width="2" height="7" fill="#008000" shape-rendering="crispEdges"/>
<rect x="264.5" y="532.5" width="2" height="3" fill="none" stroke="#008000" stroke-width="1" shape-rendering="crispEdges"/>
<rect x="269" y="529" width="1" height="8" fill="#008000" shape-rendering="crispEdges"/>
<rect x="267" y="530" width="4" height="6" fill="#008000" shape-rendering="crispEdges"/>
<rect x="271" y="527" width="2" height="3" fill="#008000" shape-rendering="crispEdges"/>
<rect x="273" y="524" width="2" height="4" fill="#008000" shape-rendering="crispEdges"/>
<rect x="275" y="522" width="2" height="6" fill="#008000" shape-rendering="crispEdges"/>
<rect x="277.5" y="515.5" width="2" height="5" fill="none" stroke="#008000" stroke-width="1" shape-rendering="crispEdges"/>
<rect x="280" y="511" width="2" height="8" fill="#ff0000" shape-rendering="crispEdges"/>
<rect x="282" y="512" width="2" height="4" fill="#008000" shape-rendering="crispEdges"/>
<rect x="285" y="510" width="2" height="8" fill="#008000" shape-rendering="crispEdges"/>
<rect x="287" y="513" width="3" height="3" fill="#008000" shape-rendering="crispEdges"/>
<rect x="290.5" y="511.5" width="2" height="4" fill="none" stroke="#008000" stroke-width="1" shape-rendering="crispEdges"/>
<rect x="293" y="505" width="2" height="9" fill="#008000" shape-rendering="crispEdges"/>
<rect x="295" y="496" width="2" height="5" fill="#008000" shape-rendering="crispEdges"/>
<rect x="297" y="486" width="2" height="7" fill="#008000" shape-rendering="crispEdges"/>
<rect x="299" y="486" width="2" height="9" fill="#ff0000" shape-rendering="crispEdges"/>
<rect x="302" y="489" width="2" height="6" fill="#008000" shape-rendering="crispEdges"/>
<rect x="303" y="490" width="2" height="12" fill="#008000" shape-rendering="crispEdges"/>
<rect x="308" y="488" width="1" height="8" fill="#008000" shape-rendering="crispEdges"/>
<rect x="307" y="489" width="3" height="6" fill="#008000" shape-rendering="crispEdges"/>
<rect x="310" y="485" width="4" height="3" fill="#008000" shape-rendering="crispEdges"/>
<rect x="315" y="485" width="2" height="6" fill="#ff0000" shape-rendering="crispEdges"/>
<rect x="317" y="484" width="1" height="6" fill="#008000" shape-rendering="crispEdges"/>
<rect x="316" y="485" width="3" height="4" fill="#008000" shape-rendering="crispEdges"/>
<rect x="319" y="485" width="2" height="3" fill="#008000" shape-rendering="crispEdges"/>
<rect x="321" y="485" width="3" height="3" fill="#ff0000" shape-rendering="crispEdges"/>
<rect x="324" y="487" width="2" height="10" fill="#ff0000" shape-rendering="crispEdges"/>
<rect x="325" y="488" width="2" height="9" fill="#ff0000" shape-rendering="crispEdges"/>
<rect x="327.5" y="495.5" width="2" height="9" fill="none" stroke="#008000" stroke-width="1" shape-rendering="crispEdges"/>
<rect x="330" y="494" width="2" height="3" fill="#ff0000" shape-rendering="crispEdges"/>
<rect x="332" y="496" width="2" height="10" fill="#ff0000" shape-rendering="crispEdges"/>
<rect x="334" y="504" width="2" height="5" fill="#ff0000" shape-rendering="crispEdges"/>
<rect x="336" y="505" width="2" height="3" fill="#ff0000" shape-rendering="crispEdges"/>
<rect x="338" y="497" width="2" height="9" fill="#008000" shape-rendering="crispEdges"/>
<rect x="340" y="500" width="3" height="3" fill="#008000" shape-rendering="crispEdges"/>
<rect x="343" y="497" width="2" height="5" fill="#008000" shape-rendering="crispEdges"/>
<rect x="345" y="499" width="2" height="4" fill="#ff0000" shape-rendering="crispEdges"/>
<rect x="347" y="495" width="2" height="9" fill="#008000" shape-rendering="crispEdges"/>
<rect x="350" y="486" width="1" height="7" fill="#008000" shape-rendering="crispEdges"/>
<rect x="349" y="487" width="3" height="5" fill="#008000" shape-rendering="crispEdges"/>
<rect x="352" y="488" width="2" height="2" fill="#008000" shape-rendering="crispEdges"/>
<rect x="353" y="488" width="3" height="3" fill="#ff0000" shape-rendering="crispEdges"/>
<rect x="356" y="489" width="2" height="6" fill="#008000" shape-rendering="crispEdges"/>
<rect x="358" y="489" width="4" height="3" fill="#008000" shape-rendering="crispEdges"/>
<rect x="362" y="490" width="2" height="3" fill="#ff0000" shape-rendering="crispEdges"/>
<rect x="366" y="492" width="2" height="4" fill="#ff0000" shape-rendering="crispEdges"/>
<rect x="369" y="492" width="2" height="4" fill="#008000" shape-rendering="crispEdges"/>
<rect x="371" y="491" width="3" height="5" fill="#008000" shape-rendering="crispEdges"/>
<rect x="375" y="479" width="2" height="12" fill="#008000" shape-rendering="crispEdges"/>
<rect x="377" y="472" width="2" height="6" fill="#008000" shape-rendering="crispEdges"/>
<rect x="380" y="462" width="2" height="4" fill="#008000" shape-rendering="crispEdges"/>
<rect x="384" y="461" width="1" height="7" fill="#ff0000" shape-rendering="crispEdges"/>
<rect x="382" y="462" width="4" height="5" fill="#ff0000" shape-rendering="crispEdges"/>
<rect x="386" y="450" width="2" height="6" fill="#008000" shape-rendering="crispEdges"/>
<rect x="388" y="447" width="2" height="9" fill="#ff0000" shape-rendering="crispEdges"/>
<rect x="391" y="456" width="1" height="10" fill="#ff0000" shape-rendering="crispEdges"/>
<rect x="390" y="458" width="3" height="6" fill="#ff0000" shape-rendering="crispEdges"/>
<rect x="394" y="457" width="1" height="7" fill="#008000" shape-rendering="crispEdges"/>
<rect x="393" y="458" width="3" height="5" fill="#008000" shape-rendering="crispEdges"/>
<rect x="396" y="454" width="2" height="10" fill="#ff0000" shape-rendering="crispEdges"/>
<rect x="398" y="457" width="2" height="11" fill="#008000" shape-rendering="crispEdges"/>
<rect x="399" y="462" width="2" height="3" fill="#ff0000" shape-rendering="crispEdges"/>
<rect x="401" y="457" width="2" height="5" fill="#008000" shape-rendering="crispEdges"/>
<rect x="403" y="461" width="2" height="2" fill="#ff0000" shape-rendering="crispEdges"/>
<rect x="406" y="463" width="2" height="5" fill="#ff0000" shape-rendering="crispEdges"/>
<rect x="408" y="469" width="2" height="6" fill="#ff0000" shape-rendering="crispEdges"/>
<rect x="410" y="469" width="2" height="5" fill="#ff0000" shape-rendering="crispEdges"/>
<rect x="412" y="467" width="2" height="8" fill="#008000" shape-rendering="crispEdges"/>
<rect x="415" y="456" width="2" height="5" fill="#008000" shape-rendering="crispEdges"/>
<rect x="417" y="456" width="2" height="6" fill="#008000" shape-rendering="crispEdges"/>
<rect x="419" y="450" width="2" height="13" fill="#ff0000" shape-rendering="crispEdges"/>
<rect x="421" y="458" width="2" height="3" fill="#008000" shape-rendering="crispEdges"/>
<rect x="424" y="456" width="2" height="4" fill="#ff0000" shape-rendering="crispEdges"/>
<rect x="425" y="459" width="2" height="2" fill="#ff0000" shape-rendering="crispEdges"/>
<rect x="427" y="458" width="2" height="4" fill="#008000" shape-rendering="crispEdges"/>
<rect x="429" y="456" width="2" height="4" fill="#008000" shape-rendering="crispEdges"/>
<rect x="432" y="445" width="2" height="10" fill="#008000" shape-rendering="crispEdges"/>
<rect x="434.5" y="452.5" width="2" height="7" fill="none" stroke="#008000" stroke-width="1" shape-rendering="crispEdges"/>
<rect x="437" y="451" width="2" height="7" fill="#008000" shape-rendering="crispEdges"/>
<rect x="439" y="447" width="1" height="10" fill="#008000" shape-rendering="crispEdges"/>
<rect x="438" y="449" width="3" height="6" fill="#008000" shape-rendering="crispEdges"/>
<rect x="441" y="444" width="2" height="8" fill="#008000" shape-rendering="crispEdges"/>
<rect x="442.5" y="448.5" width="2" height="3" fill="none" stroke="#ff0000" stroke-width="1" shape-rendering="crispEdges"/>
<rect x="445" y="439" width="2" height="10" fill="#008000" shape-rendering="crispEdges"/>
<rect x="446" y="430" width="2" height="10" fill="#008000" shape-rendering="crispEdges"/>
<rect x="447" y="425" width="2" height="16" fill="#008000" shape-rendering="crispEdges"/>
<rect x="449" y="431" width="2" height="4" fill="#ff0000" shape-rendering="crispEdges"/>
<rect x="451" y="432" width="2" height="7" fill="#ff0000" shape-rendering="crispEdges"/>
<rect x="454" y="435" width="1" height="6" fill="#ff0000" shape-rendering="crispEdges"/>
<rect x="453" y="436" width="3" height="4" fill="#ff0000" shape-rendering="crispEdges"/>
<rect x="456" y="442" width="2" height="4" fill="#ff0000" shape-rendering="crispEdges"/>
<rect x="459" y="445" width="2" height="4" fill="#ff0000" shape-rendering="crispEdges"/>
<rect x="461" y="440" width="2" height="6" fill="#ff0000" shape-rendering="crispEdges"/>
<rect x="463" y="442" width="2" height="4" fill="#008000" shape-rendering="crispEdges"/>
<rect x="465" y="439" width="2" height="6" fill="#008000" shape-rendering="crispEdges"/>
<rect x="466" y="438" width="2" height="4" fill="#008000" shape-rendering="crispEdges"/>
<rect x="468" y="431" width="2" height="10" fill="#008000" shape-rendering="crispEdges"/>
<rect x="469" y="429" width="2" height="10" fill="#008000" shape-rendering="crispEdges"/>
<rect x="471" y="428" width="2" height="5" fill="#008000" shape-rendering="crispEdges"/>
<rect x="473" y="427" width="2" height="3" fill="#008000" shape-rendering="crispEdges"/>
<rect x="475" y="428" width="2" height="6" fill="#ff0000" shape-rendering="crispEdges"/>
<rect x="477" y="420" width="2" height="15" fill="#008000" shape-rendering="crispEdges"/>
<rect x="479" y="417" width="2" height="5" fill="#008000" shape-rendering="crispEdges"/>
<rect x="480" y="410" width="2" height="7" fill="#008000" shape-rendering="crispEdges"/>
<rect x="482" y="405" width="2" height="15" fill="#008000" shape-rendering="crispEdges"/>
<rect x="484" y="410" width="2" height="7" fill="#ff0000" shape-rendering="crispEdges"/>
<rect x="485" y="404" width="2" height="15" fill="#ff0000" shape-rendering="crispEdges"/>
<rect x="486" y="410" width="2" height="5" fill="#008000" shape-rendering="crispEdges"/>
<rect x="489" y="409" width="2" height="7" fill="#ff0000" shape-rendering="crispEdges"/>
<rect x="490" y="398" width="2" height="17" fill="#008000" shape-rendering="crispEdges"/>
<rect x="492.5" y="388.5" width="2" height="12" fill="none" stroke="#008000" stroke-width="1" shape-rendering="crispEdges"/>
<rect x="495" y="377" width="2" height="17" fill="#008000" shape-rendering="crispEdges"/>
<rect x="497" y="373" width="3" height="4" fill="#008000" shape-rendering="crispEdges"/>
<rect x="499" y="373" width="1" height="10" fill="#ff0000" shape-rendering="crispEdges"/>
<rect x="498" y="375" width="3" height="6" fill="#ff0000" shape-rendering="crispEdges"/>
<rect x="503" y="370" width="1" height="13" fill="#008000" shape-rendering="crispEdges"/>
<rect x="501" y="372" width="4" height="9" fill="#008000" shape-rendering="crispEdges"/>
<rect x="498" y="362" width="2" height="13" fill="#008000" shape-rendering="crispEdges"/>
<rect x="505" y="356" width="2" height="10" fill="#008000" shape-rendering="crispEdges"/>
<rect x="507" y="363" width="2" height="7" fill="#008000" shape-rendering="crispEdges"/>
<rect x="509" y="363" width="2" height="5" fill="#008000" shape-rendering="crispEdges"/>
<rect x="511" y="365" width="2" height="7" fill="#ff0000" shape-rendering="crispEdges"/>
<rect x="512" y="364" width="2" height="6" fill="#008000" shape-rendering="crispEdges"/>
<rect x="514" y="348" width="2" height="21" fill="#008000" shape-rendering="crispEdges"/>
<rect x="516" y="329" width="1" height="17" fill="#008000" shape-rendering="crispEdges"/>
<rect x="515" y="332" width="3" height="11" fill="#008000" shape-rendering="crispEdges"/>
<rect x="516" y="329" width="2" height="6" fill="#008000" shape-rendering="crispEdges"/>
<rect x="518.5" y="313.5" width="2" height="4" fill="none" stroke="#008000" stroke-width="1" shape-rendering="crispEdges"/>
<rect x="518" y="308" width="2" height="5" fill="#008000" shape-rendering="crispEdges"/>
<rect x="521" y="316" width="1" height="8" fill="#ff0000" shape-rendering="crispEdges"/>
<rect x="520" y="317" width="3" height="6" fill="#ff0000" shape-rendering="crispEdges"/>
<rect x="523" y="313" width="2" height="14" fill="#008000" shape-rendering="crispEdges"/>
<rect x="525" y="315" width="2" height="21" fill="#ff0000" shape-rendering="crispEdges"/>
<line x1="337.5" y1="516.3" x2="537.5" y2="408.3" stroke="#0000ff" stroke-width="3" stroke-linecap="round" shape-rendering="crispEdges"/>
<rect x="578" y="322" width="44" height="16" fill="#000"/>
<text x="579.4" y="333.8" font-family="Liberation Sans, sans-serif" font-size="11" fill="#ff0000">204000.0</text>
<rect x="575.5" y="592.5" width="18" height="14" fill="#fff" stroke="#000" stroke-width="1"/>
<text transform="translate(576.8,603.6) scale(1.0,1)" font-family="Liberation Sans, sans-serif" font-size="9.4" fill="#000018" stroke="#000018" stroke-width="0.15">x10</text>
<rect x="0" y="675.5" width="2" height="6.5" fill="#008000"/>
<rect x="2" y="675.5" width="2" height="6.5" fill="#008000"/>
<rect x="4" y="675.5" width="2" height="6.5" fill="#008000"/>
<rect x="6" y="675.5" width="2" height="6.5" fill="#008000"/>
<rect x="8" y="675.5" width="2" height="6.5" fill="#008000"/>
<rect x="10" y="675.5" width="2" height="6.5" fill="#008000"/>
<rect x="12" y="675.5" width="2" height="6.5" fill="#008000"/>
<rect x="15" y="675.5" width="2" height="6.5" fill="#008000"/>
<rect x="17" y="675.5" width="2" height="6.5" fill="#008000"/>
<rect x="19" y="675.5" width="2" height="6.5" fill="#008000"/>
<rect x="21" y="675.5" width="2" height="6.5" fill="#008000"/>
<rect x="23" y="672.2" width="2" height="9.8" fill="#008000"/>
<rect x="25" y="675.5" width="2" height="6.5" fill="#008000"/>
<rect x="28" y="675.5" width="2" height="6.5" fill="#008000"/>
<rect x="30" y="675.5" width="2" height="6.5" fill="#008000"/>
<rect x="32" y="675.5" width="2" height="6.5" fill="#008000"/>
<rect x="34" y="675.5" width="2" height="6.5" fill="#008000"/>
<rect x="36" y="675.5" width="2" height="6.5" fill="#008000"/>
<rect x="38" y="675.5" width="2" height="6.5" fill="#008000"/>
<rect x="41" y="676.5" width="2" height="5.5" fill="#008000"/>
<rect x="43" y="676.5" width="2" height="5.5" fill="#008000"/>
<rect x="45" y="676.5" width="2" height="5.5" fill="#008000"/>
<rect x="47" y="676.5" width="2" height="5.5" fill="#008000"/>
<rect x="49" y="676.5" width="2" height="5.5" fill="#008000"/>
<rect x="51" y="676.5" width="2" height="5.5" fill="#008000"/>
<rect x="54" y="674.5" width="2" height="7.5" fill="#008000"/>
<rect x="56" y="674.5" width="2" height="7.5" fill="#008000"/>
<rect x="58" y="672.5" width="2" height="9.5" fill="#008000"/>
<rect x="60" y="669.3" width="2" height="12.7" fill="#008000"/>
<rect x="62" y="662.2" width="2" height="19.8" fill="#008000"/>
<rect x="65" y="669.0" width="2" height="13.0" fill="#008000"/>
<rect x="67" y="674.5" width="2" height="7.5" fill="#008000"/>
<rect x="69" y="674.5" width="2" height="7.5" fill="#008000"/>
<rect x="71" y="674.5" width="2" height="7.5" fill="#008000"/>
<rect x="73" y="674.5" width="2" height="7.5" fill="#008000"/>
<rect x="75" y="674.5" width="2" height="7.5" fill="#008000"/>
<rect x="78" y="676.5" width="2" height="5.5" fill="#008000"/>
<rect x="80" y="676.5" width="2" height="5.5" fill="#008000"/>
<rect x="82" y="672.5" width="2" height="9.5" fill="#008000"/>
<rect x="84" y="676.5" width="2" height="5.5" fill="#008000"/>
<rect x="86" y="676.5" width="2" height="5.5" fill="#008000"/>
<rect x="88" y="676.5" width="2" height="5.5" fill="#008000"/>
<rect x="91" y="676.2" width="2" height="5.8" fill="#008000"/>
<rect x="93" y="676.2" width="2" height="5.8" fill="#008000"/>
<rect x="95" y="676.2" width="2" height="5.8" fill="#008000"/>
<rect x="97" y="676.2" width="2" height="5.8" fill="#008000"/>
<rect x="99" y="676.2" width="2" height="5.8" fill="#008000"/>
<rect x="101" y="676.2" width="2" height="5.8" fill="#008000"/>
<rect x="104" y="677.0" width="2" height="5.0" fill="#008000"/>
<rect x="106" y="677.0" width="2" height="5.0" fill="#008000"/>
<rect x="108" y="677.0" width="2" height="5.0" fill="#008000"/>
<rect x="110" y="677.0" width="2" height="5.0" fill="#008000"/>
<rect x="112" y="677.0" width="2" height="5.0" fill="#008000"/>
<rect x="114" y="677.0" width="2" height="5.0" fill="#008000"/>
<rect x="117" y="677.8" width="2" height="4.2" fill="#008000"/>
<rect x="119" y="672.5" width="2" height="9.5" fill="#008000"/>
<rect x="121" y="677.8" width="2" height="4.2" fill="#008000"/>
<rect x="123" y="674.0" width="2" height="8.0" fill="#008000"/>
<rect x="125" y="677.8" width="2" height="4.2" fill="#008000"/>
<rect x="128" y="678.5" width="2" height="3.5" fill="#008000"/>
<rect x="130" y="678.5" width="2" height="3.5" fill="#008000"/>
<rect x="132" y="678.5" width="2" height="3.5" fill="#008000"/>
<rect x="134" y="678.5" width="2" height="3.5" fill="#008000"/>
<rect x="136" y="678.5" width="2" height="3.5" fill="#008000"/>
<rect x="138" y="678.5" width="2" height="3.5" fill="#008000"/>
<rect x="141" y="678.5" width="2" height="3.5" fill="#008000"/>
<rect x="143" y="678.5" width="2" height="3.5" fill="#008000"/>
<rect x="145" y="678.5" width="2" height="3.5" fill="#008000"/>
<rect x="147" y="678.5" width="2" height="3.5" fill="#008000"/>
<rect x="149" y="678.5" width="2" height="3.5" fill="#008000"/>
<rect x="151" y="678.5" width="2" height="3.5" fill="#008000"/>
<rect x="154" y="678.5" width="2" height="3.5" fill="#008000"/>
<rect x="156" y="678.5" width="2" height="3.5" fill="#008000"/>
<rect x="158" y="678.5" width="2" height="3.5" fill="#008000"/>
<rect x="160" y="678.5" width="2" height="3.5" fill="#008000"/>
<rect x="162" y="678.5" width="2" height="3.5" fill="#008000"/>
<rect x="164" y="678.5" width="2" height="3.5" fill="#008000"/>
<rect x="167" y="670.8" width="2" height="11.2" fill="#008000"/>
<rect x="169" y="677.5" width="2" height="4.5" fill="#008000"/>
<rect x="171" y="677.5" width="2" height="4.5" fill="#008000"/>
<rect x="173" y="677.5" width="2" height="4.5" fill="#008000"/>
<rect x="175" y="677.5" width="2" height="4.5" fill="#008000"/>
<rect x="177" y="677.5" width="2" height="4.5" fill="#008000"/>
<rect x="180" y="670.8" width="2" height="11.2" fill="#008000"/>
<rect x="182" y="670.8" width="2" height="11.2" fill="#008000"/>
<rect x="184" y="669.9" width="2" height="12.1" fill="#008000"/>
<rect x="186" y="671.2" width="2" height="10.8" fill="#008000"/>
<rect x="188" y="672.3" width="2" height="9.7" fill="#008000"/>
<rect x="191" y="641.0" width="2" height="41.0" fill="#008000"/>
<rect x="193" y="646.8" width="2" height="35.2" fill="#008000"/>
<rect x="195" y="660.6" width="2" height="21.4" fill="#008000"/>
<rect x="197" y="657.0" width="2" height="25.0" fill="#008000"/>
<rect x="199" y="624.0" width="2" height="58.0" fill="#008000"/>
<rect x="201" y="651.9" width="2" height="30.1" fill="#008000"/>
<rect x="204" y="657.8" width="2" height="24.2" fill="#008000"/>
<rect x="206" y="660.0" width="2" height="22.0" fill="#008000"/>
<rect x="208" y="644.9" width="2" height="37.1" fill="#008000"/>
<rect x="210" y="657.5" width="2" height="24.5" fill="#008000"/>
<rect x="212" y="654.9" width="2" height="27.1" fill="#008000"/>
<rect x="214" y="640.0" width="2" height="42.0" fill="#008000"/>
<rect x="217" y="653.0" width="2" height="29.0" fill="#008000"/>
<rect x="219" y="657.5" width="2" height="24.5" fill="#008000"/>
<rect x="221" y="664.8" width="2" height="17.2" fill="#008000"/>
<rect x="223" y="662.0" width="2" height="20.0" fill="#008000"/>
<rect x="225" y="657.5" width="2" height="24.5" fill="#008000"/>
<rect x="227" y="655.8" width="2" height="26.2" fill="#008000"/>
<rect x="230" y="655.8" width="2" height="26.2" fill="#008000"/>
<rect x="232" y="613.8" width="2" height="68.2" fill="#008000"/>
<rect x="234" y="631.0" width="2" height="51.0" fill="#008000"/>
<rect x="236" y="641.0" width="2" height="41.0" fill="#008000"/>
<rect x="238" y="635.9" width="2" height="46.1" fill="#008000"/>
<rect x="240" y="668.0" width="2" height="14.0" fill="#008000"/>
<rect x="243" y="635.0" width="2" height="47.0" fill="#008000"/>
<rect x="245" y="650.2" width="2" height="31.8" fill="#008000"/>
<rect x="247" y="637.8" width="2" height="44.2" fill="#008000"/>
<rect x="249" y="654.7" width="2" height="27.3" fill="#008000"/>
<rect x="251" y="652.8" width="2" height="29.2" fill="#008000"/>
<rect x="254" y="644.0" width="2" height="38.0" fill="#008000"/>
<rect x="256" y="627.1" width="2" height="54.9" fill="#008000"/>
<rect x="258" y="637.0" width="2" height="45.0" fill="#008000"/>
<rect x="260" y="615.0" width="2" height="67.0" fill="#008000"/>
<rect x="262" y="650.7" width="2" height="31.3" fill="#008000"/>
<rect x="264" y="630.0" width="2" height="52.0" fill="#008000"/>
<rect x="267" y="657.0" width="2" height="25.0" fill="#008000"/>
<rect x="269" y="635.0" width="2" height="47.0" fill="#008000"/>
<rect x="271" y="665.7" width="2" height="16.3" fill="#008000"/>
<rect x="273" y="660.9" width="2" height="21.1" fill="#008000"/>
<rect x="275" y="655.0" width="2" height="27.0" fill="#008000"/>
<rect x="277" y="656.1" width="2" height="25.9" fill="#008000"/>
<rect x="280" y="657.0" width="2" height="25.0" fill="#008000"/>
<rect x="282" y="659.7" width="2" height="22.3" fill="#008000"/>
<rect x="284" y="648.0" width="2" height="34.0" fill="#008000"/>
<rect x="286" y="658.0" width="2" height="24.0" fill="#008000"/>
<rect x="288" y="649.6" width="2" height="32.4" fill="#008000"/>
<rect x="290" y="665.0" width="2" height="17.0" fill="#008000"/>
<rect x="293" y="649.6" width="2" height="32.4" fill="#008000"/>
<rect x="295" y="666.7" width="2" height="15.3" fill="#008000"/>
<rect x="297" y="655.8" width="2" height="26.2" fill="#008000"/>
<rect x="299" y="657.5" width="2" height="24.5" fill="#008000"/>
<rect x="301" y="666.0" width="2" height="16.0" fill="#008000"/>
<rect x="303" y="664.0" width="2" height="18.0" fill="#008000"/>
<rect x="306" y="657.0" width="2" height="25.0" fill="#008000"/>
<rect x="308" y="660.0" width="2" height="22.0" fill="#008000"/>
<rect x="310" y="664.0" width="2" height="18.0" fill="#008000"/>
<rect x="312" y="669.6" width="2" height="12.4" fill="#008000"/>
<rect x="314" y="659.7" width="2" height="22.3" fill="#008000"/>
<rect x="316" y="666.0" width="2" height="16.0" fill="#008000"/>
<rect x="319" y="668.7" width="2" height="13.3" fill="#008000"/>
<rect x="321" y="668.7" width="2" height="13.3" fill="#008000"/>
<rect x="323" y="671.0" width="2" height="11.0" fill="#008000"/>
<rect x="325" y="667.6" width="2" height="14.4" fill="#008000"/>
<rect x="327" y="657.0" width="2" height="25.0" fill="#008000"/>
<rect x="330" y="673.0" width="2" height="9.0" fill="#008000"/>
<rect x="332" y="666.0" width="2" height="16.0" fill="#008000"/>
<rect x="334" y="664.8" width="2" height="17.2" fill="#008000"/>
<rect x="336" y="672.0" width="2" height="10.0" fill="#008000"/>
<rect x="338" y="668.7" width="2" height="13.3" fill="#008000"/>
<rect x="340" y="676.0" width="2" height="6.0" fill="#008000"/>
<rect x="343" y="670.0" width="2" height="12.0" fill="#008000"/>
<rect x="345" y="634.0" width="2" height="48.0" fill="#008000"/>
<rect x="347" y="666.5" width="2" height="15.5" fill="#008000"/>
<rect x="349" y="668.7" width="2" height="13.3" fill="#008000"/>
<rect x="351" y="672.0" width="2" height="10.0" fill="#008000"/>
<rect x="353" y="675.0" width="2" height="7.0" fill="#008000"/>
<rect x="356" y="670.0" width="2" height="12.0" fill="#008000"/>
<rect x="358" y="676.0" width="2" height="6.0" fill="#008000"/>
<rect x="360" y="673.0" width="2" height="9.0" fill="#008000"/>
<rect x="362" y="676.6" width="2" height="5.4" fill="#008000"/>
<rect x="364" y="674.4" width="2" height="7.6" fill="#008000"/>
<rect x="366" y="667.0" width="2" height="15.0" fill="#008000"/>
<rect x="369" y="674.4" width="2" height="7.6" fill="#008000"/>
<rect x="371" y="675.5" width="2" height="6.5" fill="#008000"/>
<rect x="373" y="670.4" width="2" height="11.6" fill="#008000"/>
<rect x="375" y="656.0" width="2" height="26.0" fill="#008000"/>
<rect x="377" y="664.0" width="2" height="18.0" fill="#008000"/>
<rect x="379" y="662.0" width="2" height="20.0" fill="#008000"/>
<rect x="382" y="669.6" width="2" height="12.4" fill="#008000"/>
<rect x="384" y="668.0" width="2" height="14.0" fill="#008000"/>
<rect x="386" y="657.8" width="2" height="24.2" fill="#008000"/>
<rect x="388" y="660.0" width="2" height="22.0" fill="#008000"/>
<rect x="390" y="666.0" width="2" height="16.0" fill="#008000"/>
<rect x="393" y="666.8" width="2" height="15.2" fill="#008000"/>
<rect x="395" y="670.4" width="2" height="11.6" fill="#008000"/>
<rect x="397" y="660.0" width="2" height="22.0" fill="#008000"/>
<rect x="399" y="668.7" width="2" height="13.3" fill="#008000"/>
<rect x="401" y="669.6" width="2" height="12.4" fill="#008000"/>
<rect x="403" y="664.8" width="2" height="17.2" fill="#008000"/>
<rect x="406" y="667.0" width="2" height="15.0" fill="#008000"/>
<rect x="408" y="660.9" width="2" height="21.1" fill="#008000"/>
<rect x="410" y="666.5" width="2" height="15.5" fill="#008000"/>
<rect x="412" y="666.5" width="2" height="15.5" fill="#008000"/>
<rect x="414" y="651.9" width="2" height="30.1" fill="#008000"/>
<rect x="416" y="666.5" width="2" height="15.5" fill="#008000"/>
<rect x="419" y="667.0" width="2" height="15.0" fill="#008000"/>
<rect x="421" y="670.0" width="2" height="12.0" fill="#008000"/>
<rect x="423" y="668.7" width="2" height="13.3" fill="#008000"/>
<rect x="425" y="671.0" width="2" height="11.0" fill="#008000"/>
<rect x="427" y="665.6" width="2" height="16.4" fill="#008000"/>
<rect x="429" y="665.4" width="2" height="16.6" fill="#008000"/>
<rect x="432" y="663.0" width="2" height="19.0" fill="#008000"/>
<rect x="434" y="667.6" width="2" height="14.4" fill="#008000"/>
<rect x="436" y="662.9" width="2" height="19.1" fill="#008000"/>
<rect x="438" y="655.0" width="2" height="27.0" fill="#008000"/>
<rect x="440" y="666.5" width="2" height="15.5" fill="#008000"/>
<rect x="442" y="663.0" width="2" height="19.0" fill="#008000"/>
<rect x="445" y="668.0" width="2" height="14.0" fill="#008000"/>
<rect x="447" y="671.7" width="2" height="10.3" fill="#008000"/>
<rect x="449" y="673.1" width="2" height="8.9" fill="#008000"/>
<rect x="451" y="673.1" width="2" height="8.9" fill="#008000"/>
<rect x="453" y="672.0" width="2" height="10.0" fill="#008000"/>
<rect x="456" y="673.0" width="2" height="9.0" fill="#008000"/>
<rect x="458" y="673.8" width="2" height="8.2" fill="#008000"/>
<rect x="460" y="673.0" width="2" height="9.0" fill="#008000"/>
<rect x="462" y="673.0" width="2" height="9.0" fill="#008000"/>
<rect x="464" y="672.0" width="2" height="10.0" fill="#008000"/>
<rect x="466" y="673.8" width="2" height="8.2" fill="#008000"/>
<rect x="469" y="670.0" width="2" height="12.0" fill="#008000"/>
<rect x="471" y="673.8" width="2" height="8.2" fill="#008000"/>
<rect x="473" y="672.8" width="2" height="9.2" fill="#008000"/>
<rect x="475" y="671.7" width="2" height="10.3" fill="#008000"/>
<rect x="477" y="667.0" width="2" height="15.0" fill="#008000"/>
<rect x="479" y="666.2" width="2" height="15.8" fill="#008000"/>
<rect x="482" y="661.3" width="2" height="20.7" fill="#008000"/>
<rect x="484" y="663.0" width="2" height="19.0" fill="#008000"/>
<rect x="486" y="675.7" width="2" height="6.3" fill="#008000"/>
<rect x="488" y="674.6" width="2" height="7.4" fill="#008000"/>
<rect x="490" y="671.7" width="2" height="10.3" fill="#008000"/>
<rect x="492" y="671.7" width="2" height="10.3" fill="#008000"/>
<rect x="495" y="671.7" width="2" height="10.3" fill="#008000"/>
<rect x="497" y="665.2" width="2" height="16.8" fill="#008000"/>
<rect x="499" y="671.7" width="2" height="10.3" fill="#008000"/>
<rect x="501" y="672.8" width="2" height="9.2" fill="#008000"/>
<rect x="503" y="664.2" width="2" height="17.8" fill="#008000"/>
<rect x="505" y="672.8" width="2" height="9.2" fill="#008000"/>
<rect x="508" y="672.8" width="2" height="9.2" fill="#008000"/>
<rect x="510" y="670.2" width="2" height="11.8" fill="#008000"/>
<rect x="512" y="667.0" width="2" height="15.0" fill="#008000"/>
<rect x="514" y="666.2" width="2" height="15.8" fill="#008000"/>
<rect x="516" y="656.5" width="2" height="25.5" fill="#008000"/>
<rect x="518" y="653.2" width="2" height="28.8" fill="#008000"/>
<rect x="521" y="667.0" width="2" height="15.0" fill="#008000"/>
<rect x="523" y="663.0" width="2" height="19.0" fill="#008000"/>
<rect x="525" y="661.3" width="2" height="20.7" fill="#008000"/>
<polyline points="0.0,673.6 20.0,673.6 21.0,674.5 27.0,674.5 28.0,673.6 35.0,673.6 36.0,675.0 58.0,675.0 60.0,674.0 65.0,673.0 77.0,673.0 78.0,674.0 105.0,674.0 108.0,675.0 112.0,675.5 161.0,676.0 163.0,677.0 165.0,676.0 183.0,676.0 185.0,674.5 190.0,674.5 195.0,671.0 198.0,671.5 201.0,667.0 206.0,666.0 210.0,662.5 214.0,661.5 217.0,659.0 221.0,656.5 224.0,655.0 228.0,654.0 232.0,653.5 234.0,651.0 237.0,649.5 240.0,649.0 242.0,650.0 249.0,650.0 252.0,648.8 258.0,647.0 262.0,645.5 265.0,643.0 270.0,641.5 274.0,641.5 277.0,644.0 280.0,646.0 285.0,647.0 289.0,648.0 296.0,648.7 300.0,651.0 304.0,654.0 307.0,656.0 312.0,658.5 317.0,659.0 320.0,660.0 327.0,661.0 335.0,664.0 342.0,666.6 347.0,664.0 352.0,665.0 357.0,666.0 364.0,668.0 371.0,669.0 375.0,668.0 380.0,668.0 388.0,669.0 397.0,669.5 405.0,668.0 412.0,666.5 418.0,665.5 423.0,666.0 435.0,666.0 442.0,665.0 450.0,665.0 455.0,666.5 460.0,667.0 463.0,668.5 472.0,668.5 475.0,670.0 485.0,670.0 488.0,671.0 500.0,671.0 503.0,669.5 513.0,669.0 517.0,667.0 522.0,667.0 527.0,666.0" fill="none" stroke="#ff0000" stroke-width="2.2" shape-rendering="crispEdges"/>
<rect x="575.5" y="672.5" width="28" height="13" fill="#fff" stroke="#000" stroke-width="1"/>
<text transform="translate(576.8,681.9) scale(1.0,1)" font-family="Liberation Sans, sans-serif" font-size="9.4" fill="#000018" stroke="#000018" stroke-width="0.15">x1000</text>
<rect x="0" y="685" width="574" height="1" fill="#000"/>
<rect x="0" y="686" width="1" height="5" fill="#000"/>
<rect x="9" y="686" width="1" height="18" fill="#000"/>
<rect x="11" y="686" width="1" height="5" fill="#000"/>
<rect x="22" y="686" width="1" height="5" fill="#000"/>
<rect x="33" y="686" width="1" height="5" fill="#000"/>
<rect x="44" y="686" width="1" height="5" fill="#000"/>
<rect x="55" y="686" width="1" height="18" fill="#000"/>
<rect x="65" y="686" width="1" height="5" fill="#000"/>
<rect x="76" y="686" width="1" height="5" fill="#000"/>
<rect x="87" y="686" width="1" height="5" fill="#000"/>
<rect x="98" y="686" width="1" height="5" fill="#000"/>
<rect x="102" y="686" width="1" height="18" fill="#000"/>
<rect x="107" y="686" width="1" height="5" fill="#000"/>
<rect x="118" y="686" width="1" height="5" fill="#000"/>
<rect x="128" y="686" width="1" height="5" fill="#000"/>
<rect x="139" y="686" width="1" height="18" fill="#000"/>
<rect x="150" y="686" width="1" height="5" fill="#000"/>
<rect x="161" y="686" width="1" height="5" fill="#000"/>
<rect x="172" y="686" width="1" height="5" fill="#000"/>
<rect x="183" y="686" width="1" height="18" fill="#000"/>
<rect x="194" y="686" width="1" height="5" fill="#000"/>
<rect x="204" y="686" width="1" height="5" fill="#000"/>
<rect x="215" y="686" width="1" height="5" fill="#000"/>
<rect x="226" y="686" width="1" height="5" fill="#000"/>
<rect x="228" y="686" width="1" height="18" fill="#000"/>
<rect x="237" y="686" width="1" height="5" fill="#000"/>
<rect x="246" y="686" width="1" height="5" fill="#000"/>
<rect x="257" y="686" width="1" height="5" fill="#000"/>
<rect x="267" y="686" width="1" height="5" fill="#000"/>
<rect x="272" y="686" width="1" height="18" fill="#000"/>
<rect x="283" y="686" width="1" height="5" fill="#000"/>
<rect x="293" y="686" width="1" height="5" fill="#000"/>
<rect x="304" y="686" width="1" height="5" fill="#000"/>
<rect x="315" y="686" width="1" height="18" fill="#000"/>
<rect x="326" y="686" width="1" height="5" fill="#000"/>
<rect x="337" y="686" width="1" height="5" fill="#000"/>
<rect x="348" y="686" width="1" height="5" fill="#000"/>
<rect x="359" y="686" width="1" height="5" fill="#000"/>
<rect x="361" y="686" width="1" height="18" fill="#000"/>
<rect x="370" y="686" width="1" height="5" fill="#000"/>
<rect x="380" y="686" width="1" height="5" fill="#000"/>
<rect x="391" y="686" width="1" height="5" fill="#000"/>
<rect x="402" y="686" width="1" height="5" fill="#000"/>
<rect x="411" y="686" width="1" height="18" fill="#000"/>
<rect x="413" y="686" width="1" height="5" fill="#000"/>
<rect x="424" y="686" width="1" height="5" fill="#000"/>
<rect x="435" y="686" width="1" height="5" fill="#000"/>
<rect x="446" y="686" width="1" height="5" fill="#000"/>
<rect x="456" y="686" width="1" height="18" fill="#000"/>
<rect x="463" y="686" width="1" height="5" fill="#000"/>
<rect x="474" y="686" width="1" height="5" fill="#000"/>
<rect x="485" y="686" width="1" height="5" fill="#000"/>
<rect x="496" y="686" width="1" height="5" fill="#000"/>
<rect x="500" y="686" width="1" height="18" fill="#000"/>
<rect x="506" y="686" width="1" height="5" fill="#000"/>
<rect x="517" y="686" width="1" height="5" fill="#000"/>
<rect x="528" y="686" width="1" height="5" fill="#000"/>
<rect x="539" y="686" width="1" height="5" fill="#000"/>
<rect x="550" y="686" width="1" height="18" fill="#000"/>
<rect x="561" y="686" width="1" height="5" fill="#000"/>
<rect x="572" y="686" width="1" height="5" fill="#000"/>
<text transform="translate(10.1,701.5) scale(1.08,1)" font-family="Liberation Sans, sans-serif" font-size="12" fill="#000018">Nov</text>
<text transform="translate(56.7,701.5) scale(1.08,1)" font-family="Liberation Sans, sans-serif" font-size="12" fill="#000018">Dec</text>
<text transform="translate(103.4,701.5) scale(1.08,1)" font-family="Liberation Sans, sans-serif" font-size="12" fill="#000018">2025</text>
<text transform="translate(140.4,701.5) scale(1.08,1)" font-family="Liberation Sans, sans-serif" font-size="12" fill="#000018">Feb</text>
<text transform="translate(184.6,701.5) scale(1.08,1)" font-family="Liberation Sans, sans-serif" font-size="12" fill="#000018">Mar</text>
<text transform="translate(229.8,701.5) scale(1.08,1)" font-family="Liberation Sans, sans-serif" font-size="12" fill="#000018">Apr</text>
<text transform="translate(273.2,701.5) scale(1.08,1)" font-family="Liberation Sans, sans-serif" font-size="12" fill="#000018">May</text>
<text transform="translate(316.0,701.5) scale(1.08,1)" font-family="Liberation Sans, sans-serif" font-size="12" fill="#000018">Jun</text>
<text transform="translate(361.8,701.5) scale(1.08,1)" font-family="Liberation Sans, sans-serif" font-size="12" fill="#000018">Jul</text>
<text transform="translate(412.6,701.5) scale(1.08,1)" font-family="Liberation Sans, sans-serif" font-size="12" fill="#000018">Aug</text>
<text transform="translate(458.4,701.5) scale(1.08,1)" font-family="Liberation Sans, sans-serif" font-size="12" fill="#000018">Sep</text>
<text transform="translate(501.5,701.5) scale(1.08,1)" font-family="Liberation Sans, sans-serif" font-size="12" fill="#000018">Oct</text>
<text transform="translate(551.8,701.5) scale(1.08,1)" font-family="Liberation Sans, sans-serif" font-size="12" fill="#000018">Nov</text>
<rect x="575" y="686" width="47" height="18" fill="#ececec"/>
</svg></body></html>
